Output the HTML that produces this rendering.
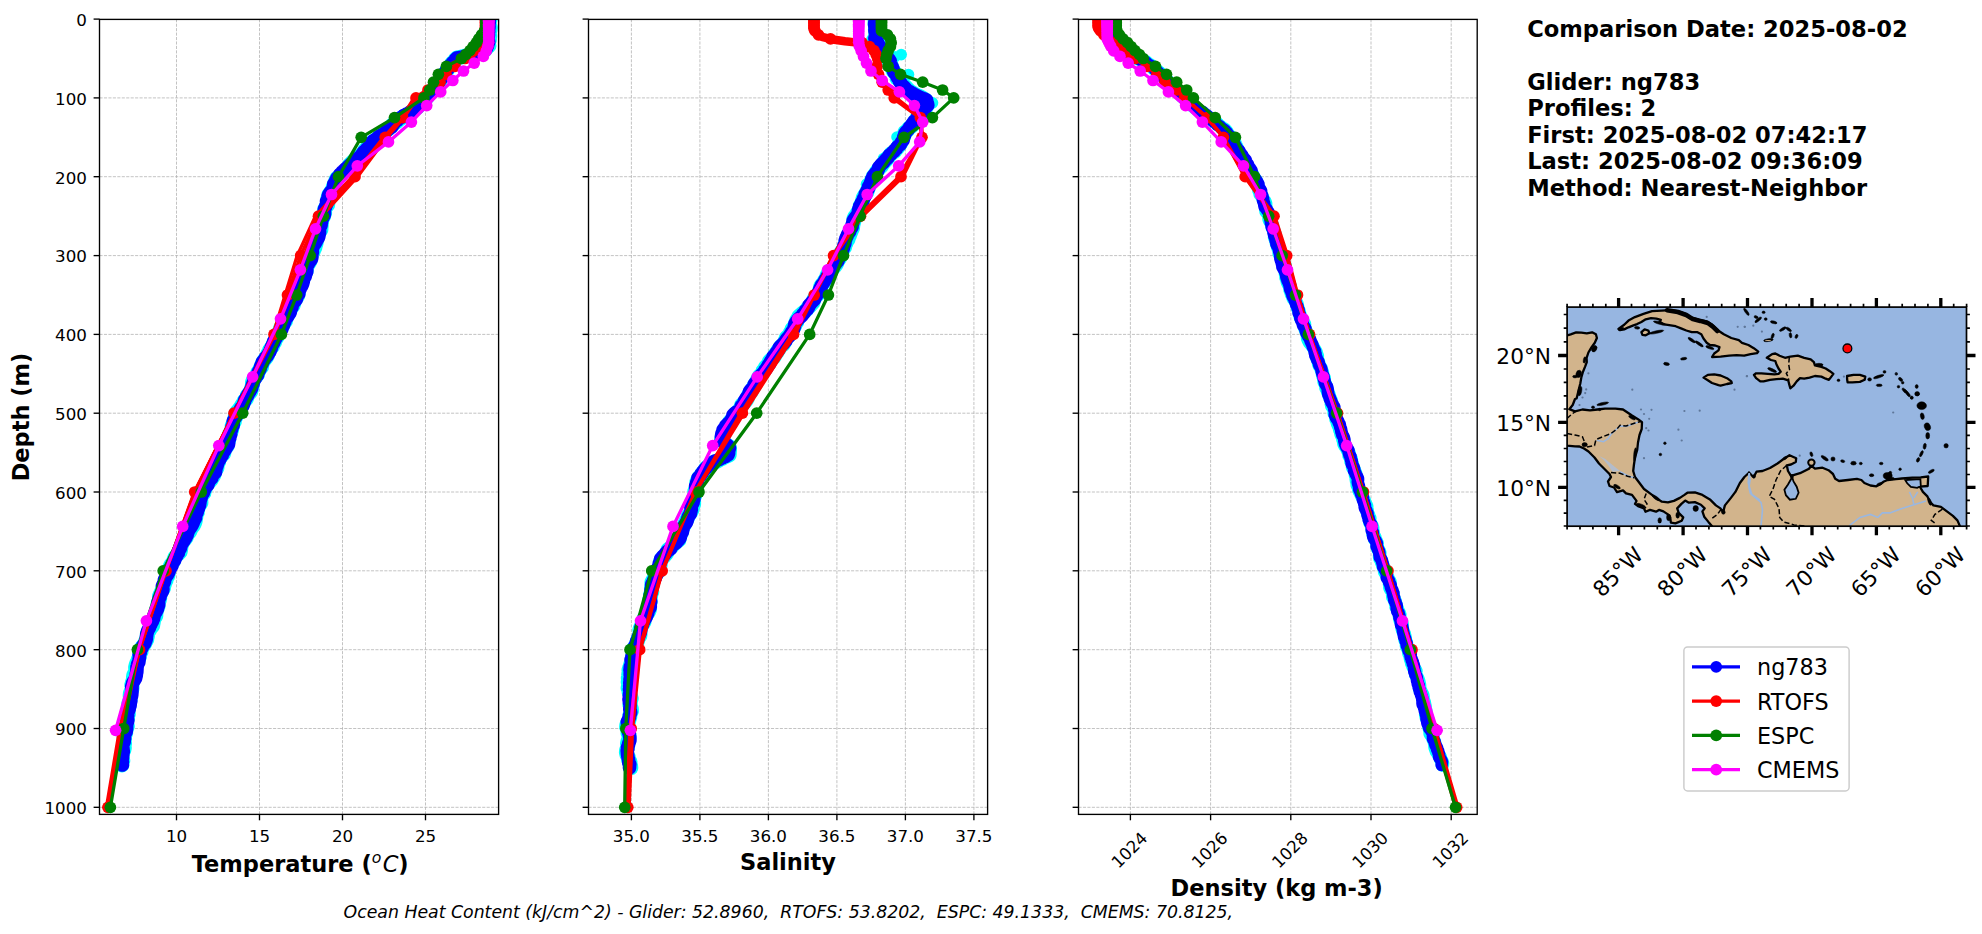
<!DOCTYPE html>
<html><head><meta charset="utf-8"><title>Glider vs model comparison</title>
<style>
html,body{margin:0;padding:0;background:#fff}
body{width:1982px;height:934px;overflow:hidden}
svg{display:block}
text{font-family:"DejaVu Sans","Liberation Sans",sans-serif;fill:#000}
.tk text{font-size:16.7px}
.lb text{font-size:22.5px;font-weight:bold}
.lb .mi{font-weight:normal;font-style:italic}
.ft{font-size:17.32px;font-style:italic;white-space:pre}
.inf text{font-size:22.6px;font-weight:bold}
.lg{font-size:22.3px}
.mp text{font-size:21.7px}
</style></head><body>
<svg width="1982" height="934" viewBox="0 0 1982 934">
<rect width="1982" height="934" fill="#fff"/>
<defs><clipPath id="c0"><rect x="99.5" y="19.4" width="399.1" height="795"/></clipPath><clipPath id="c1"><rect x="588.5" y="19.4" width="399.1" height="795"/></clipPath><clipPath id="c2"><rect x="1078.5" y="19.4" width="398.7" height="795"/></clipPath></defs>
<g stroke="#b4b4b4" stroke-width="0.8" stroke-dasharray="3.1 1.35" fill="none"><path d="M99.5 97.9H498.6"/><path d="M99.5 176.7H498.6"/><path d="M99.5 255.6H498.6"/><path d="M99.5 334.4H498.6"/><path d="M99.5 413.2H498.6"/><path d="M99.5 492H498.6"/><path d="M99.5 570.8H498.6"/><path d="M99.5 649.7H498.6"/><path d="M99.5 728.5H498.6"/><path d="M99.5 807.3H498.6"/><path d="M176.5 814.4V19.4"/><path d="M259.5 814.4V19.4"/><path d="M342.5 814.4V19.4"/><path d="M425.5 814.4V19.4"/></g>
<g clip-path="url(#c0)">
<polyline points="490.2,19.4 489.2,21.5 489.2,23.5 489.8,25.6 490.5,27.6 490.2,29.7 489.6,31.8 489.1,33.8 489.9,35.9 489.4,37.9 489.5,40 488.6,42 488.4,44 489,46 486.5,48 485.3,50 482.9,51 481.2,52 479,53 476.3,53.5 474.9,54 472.6,54.5 469.7,55 466.9,55.5 465.2,56 463.3,56.5 461.2,57 458.8,57.5 456.8,58 455.2,59.6 454.5,61.2 452.1,62.8 451.2,64.4 450.3,66 448.2,67.8 447.6,69.6 446.4,71.4 445.5,73.2 443.5,75 442,77 440.6,79 440.2,81 438.9,83 437.3,85 435.8,86.7 434.1,88.3 432,90 430.3,91.7 429.9,93.3 428.3,95 427.7,96.7 425.7,98.3 423.9,100 422.6,101.7 420.7,103.3 419.2,105 418.3,106.3 417.1,107.7 415.6,109 413.7,110.3 412.3,111.7 410.8,113 408.6,114.2 406.8,115.3 403.8,116.5 402.3,117.7 400.2,118.8 398.7,120 397.1,121.6 394.9,123.1 392.5,124.7 391.7,126.3 389.4,127.9 387.8,129.4 386,131 384.2,132.2 383.2,133.5 382.5,134.8 380.4,136 379,137.2 377.1,138.5 375.6,139.8 373.9,141 371.9,142.5 370.1,144 368.4,145.5 368,147 366.6,148.5 364.8,150 364.1,151.5 363.5,153 361.7,154.5 359.5,156 357.6,157.5 355.6,159 354.2,160.5 352.4,162 350.9,163.5 349.4,165 348.5,166.4 348,167.9 347,169.3 345.3,170.8 343.7,172.2 342.3,173.7 340.7,175.1 339,176.6 337,178 335.9,179.9 336,181.8 334.5,183.7 333.7,185.6 333.1,187.4 332.8,189.3 331.3,191.2 330,193.1 328.7,195 328.2,197 327.7,199 328,201 327.9,203 327.7,205 326.1,207 324.7,209 324.6,211 324.7,213 323.9,215 323.4,217 321.9,219.1 321.2,221.2 321.5,223.3 321.3,225.4 321.1,227.5 321,229.6 319.6,231.7 318.2,233.8 317,235.9 316.6,238 316.3,239.9 316.4,241.9 316,243.8 315.3,245.8 314.9,247.7 313.9,249.7 313.2,251.6 311.6,253.6 311.5,255.5 310.3,257.4 310.5,259.4 310,261.4 308.9,263.3 307.6,265.2 306.7,267.2 306.5,269.1 306.3,271.1 305,273.1 303.8,275 303.5,276.9 303.1,278.8 302.3,280.7 301.3,282.6 300.9,284.5 299.5,286.4 298.8,288.3 298.3,290.2 298.6,292.1 298.1,294 297.7,295.9 296.6,297.8 295.1,299.7 293.8,301.6 293.8,303.5 293.1,305.5 291.8,307.4 290,309.3 289.3,311.2 288.8,313.1 287.8,315 286.5,316.9 285.9,318.9 285.7,320.8 284.1,322.8 282.4,324.7 281.3,326.6 280.4,328.6 280,330.5 278.6,332.5 278.3,334.4 277.6,336.3 276.5,338.3 274.9,340.2 274.7,342.2 273.2,344.1 272.7,346.1 271.1,348.1 269.6,350 269.1,351.9 267.7,353.8 267.5,355.6 266.4,357.5 264.8,359.4 263.4,361.2 262.4,363.1 261.8,365 261.7,366.9 260,368.8 259,370.8 257.6,372.7 257.7,374.6 256.1,376.5 254.5,378.5 253.1,380.4 252.4,382.3 252.5,384.2 252.2,386.2 251.6,388.1 251.3,390 250.7,391.8 249.1,393.6 247.3,395.4 247,397.2 246.3,399 244.3,400.8 243.6,402.6 242.3,404.4 241.2,406.2 240,408 238.6,409.8 237,411.6 236,413.4 235.3,415.5 235.6,417.5 234.3,419.6 234.4,421.7 233.1,423.8 232.1,425.9 232,427.9 231.6,430 230.9,432 229.5,434 229.1,436 228.5,438 228.8,440 227.7,442 227.1,444 227.3,446 225.5,448 224.5,450 224.1,452 223.5,454 221.6,456 220,458 218.5,460 218.7,462 217.5,464 217.2,466 217,468 215.7,470 214.4,472 214.3,474 213.5,476 212.1,478 211.2,479.9 209.6,481.7 208,483.6 206,485.4 205.5,487.3 205.1,489.1 204,491 204,492.9 202.3,494.9 201.3,496.8 200.7,498.8 200.9,500.7 201,502.7 199.9,504.6 198.7,506.6 197.9,508.5 197.3,510.4 197.4,512.4 196.1,514.3 196,516.3 195.7,518.2 195.4,520.2 195,522.1 194.2,524.1 193.1,526 191.7,527.8 190.4,529.7 190,531.5 188.2,533.4 186.9,535.2 186.5,537.1 185.2,538.9 183.7,540.8 182.2,542.6 181.8,544.5 180.8,546.3 180.9,548.2 180.6,550 180.2,551.9 178.5,553.7 176.6,555.6 174.9,557.4 174.1,559.3 173.6,561.1 172.5,563 171,564.8 170,566.7 169.3,568.5 168.6,570.4 168.4,572.4 168.2,574.3 167.7,576.3 166.2,578.3 166.1,580.3 165,582.2 164.5,584.2 163.7,586.2 163.5,588.2 162.3,590.1 161.3,592.1 160.4,594.1 159.5,596.1 159.8,598 159.4,600 158.6,602 157.9,604 158.2,606 157.5,608 156.3,610 156.3,612 155.8,614 155.9,616 154.4,618 153.7,620 153.4,622 153,624 152.7,626 150.8,628 149.7,630 148.3,632 147.2,634 147.5,636 146.9,638 146.8,640 145.3,641.9 144.7,643.8 143.3,645.6 141.7,647.5 141,649.4 141.2,651.4 139.8,653.4 139.5,655.3 139.3,657.3 138.3,659.3 137.7,661.3 136.7,663.2 136,665.2 135.5,667.2 135.6,669.2 135.6,671.2 134.8,673.1 133.7,675.1 133.4,677.1 133.6,679.1 132.8,681 132.3,683 131.7,685 132.2,687.1 132,689.1 131.1,691.2 130.3,693.3 130.1,695.3 130.2,697.4 130.3,699.5 129.4,701.5 128.7,703.6 129,705.7 128.7,707.7 128.2,709.8 127.7,711.9 128.4,713.9 127.7,716 127.6,718.1 127,720.1 126.6,722.2 127,724.3 127.4,726.3 126.6,728.4 125.7,730.6 125.8,732.7 125,734.9 124,737 124.6,739.2 124.2,741.4 124.6,743.5 124.1,745.7 124.4,747.8 123.9,750 123,752.1 122.1,754.3 122.2,756.4 122.4,758.6 122.9,760.7 121.9,762.9 122,765" fill="none" stroke="#00ffff" stroke-width="14.8" stroke-linejoin="round" stroke-linecap="round"/><polyline points="489.3,19.4 488.9,21.1 489.2,22.8 488.7,24.5 489,26.3 488.9,28 488.5,29.7 488.7,31.4 488.3,33.1 488.5,34.9 488.2,36.6 488,38.3 488.2,40 488.7,42 487.9,44 487.5,46 486.7,47.3 486.3,48.7 485.2,50 483.3,50.8 482.2,51.5 479.6,52.2 478.4,53 476.3,53.4 474.2,53.8 472.1,54.2 470.4,54.7 469.4,55.1 467.4,55.5 466,55.9 464.6,56.3 462.8,56.8 461.2,57.2 459,57.6 456.9,58 455.6,59.1 455,60.3 454,61.4 452.7,62.6 451.9,63.7 450.8,64.9 449.5,66 449,67.3 448.3,68.6 446.8,69.9 446,71.1 445,72.4 444.5,73.7 443.7,75 442.4,76.4 442.1,77.9 440.5,79.3 439.5,80.7 439,82.1 437.6,83.6 436.8,85 435.2,86.2 434.7,87.5 434.1,88.8 433.2,90 432.6,91.2 431.2,92.5 430.4,93.8 429.5,95 428.3,96.2 427,97.5 426.3,98.8 425.6,100 424.2,101.2 423.1,102.5 421.1,103.8 420.3,105 419,106 418.2,107 417,108 415.1,109 413.4,110 412.2,111 410.1,112 408.7,113 407,113.9 405.2,114.8 403.5,115.6 402.8,116.5 401.1,117.4 399.7,118.2 398.4,119.1 397.8,120 396,121.2 394.8,122.4 393.8,123.7 393.1,124.9 392.2,126.1 391.3,127.3 389.5,128.6 388,129.8 386.5,131 385.7,132 385,133 383,134 381.3,135 379.7,136 378.2,137 377.2,138 376.2,139 374.7,140 372.9,141 371.9,142.2 370.8,143.4 370,144.6 369.6,145.8 368.6,147 367.4,148.2 366.3,149.4 365.3,150.6 363.5,151.8 362.9,153 362,154.2 361.2,155.4 360.2,156.6 358.6,157.8 357.2,159 355.4,160.2 354.5,161.4 352.7,162.6 351.1,163.8 349.8,165 348.5,166.2 347.4,167.4 345.9,168.5 344.5,169.7 343.3,170.9 342,172.1 341.1,173.3 339.7,174.5 339.5,175.6 338.7,176.8 337.1,178 336.3,179.5 335.5,181.1 334.8,182.6 333.7,184.2 333.7,185.7 333.7,187.3 332.8,188.8 332,190.4 330.6,191.9 329.4,193.5 328.6,195 328.1,196.6 328.3,198.1 327.4,199.7 326.5,201.3 326.9,202.9 326.6,204.4 325.7,206 325.4,207.6 324.4,209.1 324.2,210.7 324.5,212.3 324.5,213.9 324.2,215.4 323.2,217 322.5,218.6 321.6,220.2 321.6,221.8 321.2,223.5 321.1,225.1 320.3,226.7 319.5,228.3 319.5,229.9 319.6,231.5 319.5,233.2 319.1,234.8 318.8,236.4 318.3,238 317.1,239.6 316.4,241.2 315.6,242.8 314.4,244.4 313.3,246 312.8,247.5 312.2,249.1 312.2,250.7 312.4,252.3 311.8,253.9 311.8,255.5 311.8,257.1 311.6,258.8 310.6,260.4 309.4,262 308.5,263.6 307.6,265.2 306.8,266.9 306.6,268.5 306.8,270.1 306.7,271.8 306,273.4 305.5,275 305.2,276.6 303.8,278.2 303.5,279.8 303.3,281.3 302.9,282.9 302.4,284.5 301.6,286.1 300.3,287.7 300.1,289.2 299.1,290.8 298.9,292.4 298.8,294 297.7,295.5 296.7,297 296.6,298.5 295.9,300 294.6,301.5 293.3,303 292.2,304.5 292.2,306 291.9,307.5 290.6,309 290.4,310.5 290.3,312 289.6,313.5 288.5,315 287.7,316.5 286.3,318 285,319.5 285.1,321 284.5,322.5 283.7,324 283.5,325.4 282.5,326.9 282.1,328.4 281.6,329.9 280.2,331.4 279,332.9 278,334.4 277,335.8 276.5,337.2 275.5,338.7 274.8,340.1 273.6,341.5 273.7,342.9 272.7,344.3 272,345.7 271.4,347.2 271.2,348.6 270.3,350 270,351.5 269,353 268.1,354.5 267.2,356 265.6,357.5 264.8,359 263.7,360.5 262.4,362 262.3,363.5 261.2,365 260.7,366.5 260.4,367.9 259.8,369.4 258.9,370.9 258.3,372.4 257.7,373.8 257.4,375.3 256.1,376.8 255.5,378.2 254.5,379.7 253.6,381.2 253.4,382.6 252.8,384.1 252.2,385.6 251.8,387.1 251.5,388.5 250.6,390 249.8,391.5 248.9,392.9 248,394.4 247.4,395.9 246.4,397.3 245.6,398.8 244.7,400.2 244.5,401.7 243.8,403.2 243.3,404.6 242.8,406.1 241.4,407.5 240.5,409 240.1,410.5 239.6,411.9 238,413.4 236.7,414.9 236.1,416.4 235,417.9 234.2,419.4 233.3,420.9 233.2,422.5 233.2,424 233.2,425.5 232,427 231.8,428.5 231.4,430 230.4,431.6 230.6,433.2 230.7,434.8 229.7,436.4 229.8,438 229.1,439.6 228.5,441.2 228.7,442.8 228.5,444.4 227.4,446 226.4,447.6 225.6,449.1 224.6,450.7 223.4,452.2 222.5,453.8 222.2,455.3 220.8,456.9 220.3,458.4 219.5,460 218.3,461.5 217.7,463 217.4,464.5 216.9,466 215.8,467.5 216,469 215.7,470.5 215.6,472 214.2,473.5 213.1,475 211.9,476.5 211.8,478 210.6,479.4 209.3,480.9 208.4,482.3 208.2,483.8 207.7,485.2 206.3,486.7 204.9,488.1 204.7,489.6 203.8,491 203.5,492.6 202.3,494.2 201.2,495.8 201.2,497.4 200.7,499 199.7,500.5 200,502.1 199.7,503.7 199.5,505.3 198.3,506.9 198.4,508.5 197.2,510.1 197.3,511.7 196.6,513.3 195.9,514.9 195.5,516.5 195.6,518 194.6,519.6 193.6,521.2 193.2,522.8 192.4,524.4 191.6,526 190.6,527.5 189.5,529 188.6,530.5 188,532 187.3,533.5 187.2,535 186.3,536.5 185.7,538 184.6,539.5 183.8,541 182.6,542.5 181.8,544 180.7,545.5 180.7,547 180.2,548.5 179.1,550 178.5,551.5 178.4,552.9 177.1,554.4 176.8,555.8 175.9,557.3 175,558.7 174.7,560.2 173.6,561.7 172.7,563.1 172.1,564.6 171.9,566 170.6,567.5 170.1,568.9 169.4,570.4 168.9,572 168.1,573.5 167.3,575.1 166.1,576.6 165.3,578.2 164.4,579.7 164.6,581.3 163.9,582.9 163.2,584.4 162.4,586 162.7,587.5 162.9,589.1 162.6,590.7 161.8,592.2 161,593.8 160.3,595.3 160,596.9 159.1,598.4 158.8,600 158.2,601.5 158.6,603.1 158.7,604.6 158.2,606.2 157.3,607.7 157.4,609.2 156.5,610.8 155.8,612.3 154.7,613.8 154.2,615.4 153.9,616.9 153.6,618.5 152.8,620 152.4,621.5 151.3,623.1 150.7,624.6 149.8,626.2 149.4,627.7 148.5,629.2 147.7,630.8 147.3,632.3 146.8,633.8 146.7,635.4 146.4,636.9 146.4,638.5 146,640 145.4,641.6 144.9,643.1 143.7,644.7 142.4,646.3 142.1,647.8 140.6,649.4 140.5,651 140.3,652.6 139.2,654.3 139.4,655.9 139.5,657.5 139.2,659.1 139,660.7 138.8,662.3 137.7,664 137.4,665.6 137,667.2 137,668.8 136.9,670.4 136.8,672.1 136.3,673.7 136.3,675.3 135.9,676.9 135.5,678.5 134.5,680.1 133.4,681.8 132.6,683.4 132.3,685 131.7,686.6 132.1,688.2 132,689.8 132,691.4 131.9,693 131.8,694.6 131.5,696.3 130.5,697.9 130.7,699.5 130.8,701.1 130.4,702.7 130.2,704.3 130,705.9 129.1,707.5 129.2,709.1 128.6,710.7 127.8,712.3 127.4,713.9 127.7,715.5 127.1,717.1 127.4,718.8 127.8,720.4 127.4,722 126.9,723.6 126.6,725.2 126.6,726.8 126.6,728.4 126.4,730.1 126.2,731.7 125.3,733.4 124.7,735 124.3,736.7 124.6,738.4 124.2,740 124.2,741.7 123.4,743.4 122.8,745 122.6,746.7 122.9,748.3 123.1,750 123.3,751.7 122.8,753.3 122.8,755 122.6,756.7 122.4,758.3 121.8,760 122.4,761.7 121.8,763.3 122.4,765" fill="none" stroke="#0000ff" stroke-width="13.6" stroke-linejoin="round" stroke-linecap="round"/>
<polyline points="485.5,19.1 485.5,20.7 485.5,22.3 485.5,23.8 485.5,25.4 485.5,27 485.5,28.6 485.5,30.9 485.5,34.9 484,38.8 481,42.7 478,46.7 473.9,50.6 469.9,54.6 464.9,58.5 454.6,66.4 445.6,74.3 439.6,82.2 427.1,90 414.1,97.9 401.6,117.6 383.6,137.3 352.4,176.7 315.4,216.2 297.2,255.6 285.1,295 273.1,334.4 234,413.2 194.3,492 166,570.8 139.5,649.7 119.7,728.5 106.4,807.3" fill="none" stroke="#ff0000" stroke-width="3.3" stroke-linejoin="round"/>
<polyline points="485.5,19.1 485.5,20.7 485.5,22.3 485.5,23.8 485.5,25.4 485.5,27 485.5,28.6 485.5,30.9 485.5,34.9 484,38.8 481,42.7 478,46.7 474,50.6 470,54.6 465,58.5 455,66.4 446,74.3 440,82.2 428,90 416,97.9 402.7,117.6 385.2,137.3 355,176.7 318.5,216.2 300.6,255.6 287.5,295 274,334.4 234,413.2 194.7,492 166,570.8 139.5,649.7 121,728.5 107.9,807.3" fill="none" stroke="#ff0000" stroke-width="3.3" stroke-linejoin="round"/><g fill="#ff0000"><circle cx="485.5" cy="19.1" r="5.85"/><circle cx="485.5" cy="20.7" r="5.85"/><circle cx="485.5" cy="22.3" r="5.85"/><circle cx="485.5" cy="23.8" r="5.85"/><circle cx="485.5" cy="25.4" r="5.85"/><circle cx="485.5" cy="27" r="5.85"/><circle cx="485.5" cy="28.6" r="5.85"/><circle cx="485.5" cy="30.9" r="5.85"/><circle cx="485.5" cy="34.9" r="5.85"/><circle cx="484" cy="38.8" r="5.85"/><circle cx="481" cy="42.7" r="5.85"/><circle cx="478" cy="46.7" r="5.85"/><circle cx="474" cy="50.6" r="5.85"/><circle cx="470" cy="54.6" r="5.85"/><circle cx="465" cy="58.5" r="5.85"/><circle cx="455" cy="66.4" r="5.85"/><circle cx="446" cy="74.3" r="5.85"/><circle cx="440" cy="82.2" r="5.85"/><circle cx="428" cy="90" r="5.85"/><circle cx="416" cy="97.9" r="5.85"/><circle cx="402.7" cy="117.6" r="5.85"/><circle cx="385.2" cy="137.3" r="5.85"/><circle cx="355" cy="176.7" r="5.85"/><circle cx="318.5" cy="216.2" r="5.85"/><circle cx="300.6" cy="255.6" r="5.85"/><circle cx="287.5" cy="295" r="5.85"/><circle cx="274" cy="334.4" r="5.85"/><circle cx="234" cy="413.2" r="5.85"/><circle cx="194.7" cy="492" r="5.85"/><circle cx="166" cy="570.8" r="5.85"/><circle cx="139.5" cy="649.7" r="5.85"/><circle cx="121" cy="728.5" r="5.85"/><circle cx="107.9" cy="807.3" r="5.85"/></g>
<polyline points="485.5,19.1 485.5,20.7 485.5,22.3 485.5,23.8 485.5,25.4 485.5,27 485.5,28.6 485.5,30.9 485.5,34.9 484,38.8 481,42.7 478,46.7 474.1,50.6 470.1,54.6 465.1,58.5 455.4,66.4 446.4,74.3 440.4,82.2 428.9,90 417.9,97.9 403.8,117.6 386.8,137.3 357.6,176.7 321.6,216.2 304,255.6 289.9,295 274.9,334.4 234,413.2 195,492 166,570.8 139.5,649.7 122.3,728.5 109.5,807.3" fill="none" stroke="#ff0000" stroke-width="3.3" stroke-linejoin="round"/>
<polyline points="486,19.1 486,20.7 486,22.3 486,23.8 486,25.4 486,27 485.5,28.6 484.5,30.9 481.5,34.9 478.7,38.8 476.4,42.7 473.1,46.7 469.9,50.6 465.7,54.6 461.4,58.5 446.4,66.4 438.4,74.3 433.5,82.2 429.8,90 423.9,97.9 394.5,117.6 361.2,137.3 338.5,176.7 323.4,216.2 310.2,255.6 296.7,295 281.4,334.4 242.7,413.2 201.3,492 163.2,570.8 137.4,649.7 123.7,728.5 110.4,807.3" fill="none" stroke="#008000" stroke-width="3.3" stroke-linejoin="round"/><g fill="#008000"><circle cx="486" cy="19.1" r="5.85"/><circle cx="486" cy="20.7" r="5.85"/><circle cx="486" cy="22.3" r="5.85"/><circle cx="486" cy="23.8" r="5.85"/><circle cx="486" cy="25.4" r="5.85"/><circle cx="486" cy="27" r="5.85"/><circle cx="485.5" cy="28.6" r="5.85"/><circle cx="484.5" cy="30.9" r="5.85"/><circle cx="481.5" cy="34.9" r="5.85"/><circle cx="478.7" cy="38.8" r="5.85"/><circle cx="476.4" cy="42.7" r="5.85"/><circle cx="473.1" cy="46.7" r="5.85"/><circle cx="469.9" cy="50.6" r="5.85"/><circle cx="465.7" cy="54.6" r="5.85"/><circle cx="461.4" cy="58.5" r="5.85"/><circle cx="446.4" cy="66.4" r="5.85"/><circle cx="438.4" cy="74.3" r="5.85"/><circle cx="433.5" cy="82.2" r="5.85"/><circle cx="429.8" cy="90" r="5.85"/><circle cx="423.9" cy="97.9" r="5.85"/><circle cx="394.5" cy="117.6" r="5.85"/><circle cx="361.2" cy="137.3" r="5.85"/><circle cx="338.5" cy="176.7" r="5.85"/><circle cx="323.4" cy="216.2" r="5.85"/><circle cx="310.2" cy="255.6" r="5.85"/><circle cx="296.7" cy="295" r="5.85"/><circle cx="281.4" cy="334.4" r="5.85"/><circle cx="242.7" cy="413.2" r="5.85"/><circle cx="201.3" cy="492" r="5.85"/><circle cx="163.2" cy="570.8" r="5.85"/><circle cx="137.4" cy="649.7" r="5.85"/><circle cx="123.7" cy="728.5" r="5.85"/><circle cx="110.4" cy="807.3" r="5.85"/></g>
<polyline points="488.7,19.5 488.7,20.3 488.7,21.2 488.7,22.1 488.7,23.1 488.7,24.2 488.7,25.4 488.7,26.6 488.7,28.1 488.7,29.7 488.7,31.6 488.7,33.7 488.7,36.1 488.7,39 488.7,42.3 487.9,46.2 486.3,50.9 483.3,56.4 474.2,63.1 463.5,71 452.8,80.5 440.7,91.9 426.7,105.6 411.4,122.1 388.5,141.9 357.3,165.8 331.5,194.5 315.5,228.8 300.4,269.8 280.5,318.8 252.6,376.9 218.8,445.6 182.7,526.4 146.4,620.8 115.6,730.3" fill="none" stroke="#ff00ff" stroke-width="3.3" stroke-linejoin="round"/><g fill="#ff00ff"><circle cx="488.7" cy="19.5" r="5.85"/><circle cx="488.7" cy="20.3" r="5.85"/><circle cx="488.7" cy="21.2" r="5.85"/><circle cx="488.7" cy="22.1" r="5.85"/><circle cx="488.7" cy="23.1" r="5.85"/><circle cx="488.7" cy="24.2" r="5.85"/><circle cx="488.7" cy="25.4" r="5.85"/><circle cx="488.7" cy="26.6" r="5.85"/><circle cx="488.7" cy="28.1" r="5.85"/><circle cx="488.7" cy="29.7" r="5.85"/><circle cx="488.7" cy="31.6" r="5.85"/><circle cx="488.7" cy="33.7" r="5.85"/><circle cx="488.7" cy="36.1" r="5.85"/><circle cx="488.7" cy="39" r="5.85"/><circle cx="488.7" cy="42.3" r="5.85"/><circle cx="487.9" cy="46.2" r="5.85"/><circle cx="486.3" cy="50.9" r="5.85"/><circle cx="483.3" cy="56.4" r="5.85"/><circle cx="474.2" cy="63.1" r="5.85"/><circle cx="463.5" cy="71" r="5.85"/><circle cx="452.8" cy="80.5" r="5.85"/><circle cx="440.7" cy="91.9" r="5.85"/><circle cx="426.7" cy="105.6" r="5.85"/><circle cx="411.4" cy="122.1" r="5.85"/><circle cx="388.5" cy="141.9" r="5.85"/><circle cx="357.3" cy="165.8" r="5.85"/><circle cx="331.5" cy="194.5" r="5.85"/><circle cx="315.5" cy="228.8" r="5.85"/><circle cx="300.4" cy="269.8" r="5.85"/><circle cx="280.5" cy="318.8" r="5.85"/><circle cx="252.6" cy="376.9" r="5.85"/><circle cx="218.8" cy="445.6" r="5.85"/><circle cx="182.7" cy="526.4" r="5.85"/><circle cx="146.4" cy="620.8" r="5.85"/><circle cx="115.6" cy="730.3" r="5.85"/></g>
</g>
<g stroke="#000" stroke-width="1.35" fill="none"><rect x="99.5" y="19.4" width="399.1" height="795"/><path d="M99.5 19.1h-5.9"/><path d="M99.5 97.9h-5.9"/><path d="M99.5 176.7h-5.9"/><path d="M99.5 255.6h-5.9"/><path d="M99.5 334.4h-5.9"/><path d="M99.5 413.2h-5.9"/><path d="M99.5 492h-5.9"/><path d="M99.5 570.8h-5.9"/><path d="M99.5 649.7h-5.9"/><path d="M99.5 728.5h-5.9"/><path d="M99.5 807.3h-5.9"/><path d="M176.5 814.4v5.9"/><path d="M259.5 814.4v5.9"/><path d="M342.5 814.4v5.9"/><path d="M425.5 814.4v5.9"/></g><g class="tk"><text x="86.9" y="25.9" text-anchor="end">0</text><text x="86.9" y="104.7" text-anchor="end">100</text><text x="86.9" y="183.5" text-anchor="end">200</text><text x="86.9" y="262.4" text-anchor="end">300</text><text x="86.9" y="341.2" text-anchor="end">400</text><text x="86.9" y="420" text-anchor="end">500</text><text x="86.9" y="498.8" text-anchor="end">600</text><text x="86.9" y="577.6" text-anchor="end">700</text><text x="86.9" y="656.5" text-anchor="end">800</text><text x="86.9" y="735.3" text-anchor="end">900</text><text x="86.9" y="814.1" text-anchor="end">1000</text><text x="176.5" y="842.3" text-anchor="middle">10</text><text x="259.5" y="842.3" text-anchor="middle">15</text><text x="342.5" y="842.3" text-anchor="middle">20</text><text x="425.5" y="842.3" text-anchor="middle">25</text></g>
<g stroke="#b4b4b4" stroke-width="0.8" stroke-dasharray="3.1 1.35" fill="none"><path d="M588.5 97.9H987.6"/><path d="M588.5 176.7H987.6"/><path d="M588.5 255.6H987.6"/><path d="M588.5 334.4H987.6"/><path d="M588.5 413.2H987.6"/><path d="M588.5 492H987.6"/><path d="M588.5 570.8H987.6"/><path d="M588.5 649.7H987.6"/><path d="M588.5 728.5H987.6"/><path d="M588.5 807.3H987.6"/><path d="M631.4 814.4V19.4"/><path d="M699.9 814.4V19.4"/><path d="M768.4 814.4V19.4"/><path d="M836.9 814.4V19.4"/><path d="M905.4 814.4V19.4"/><path d="M973.9 814.4V19.4"/></g>
<g clip-path="url(#c1)">
<g fill="#00ffff"><circle cx="901.2" cy="54.6" r="5.8"/><circle cx="894.8" cy="56.8" r="5.8"/><circle cx="908.5" cy="74.5" r="5.8"/><circle cx="895.5" cy="79.2" r="5.8"/><circle cx="932.5" cy="102.8" r="5.8"/><circle cx="897" cy="137" r="5.8"/><circle cx="883.5" cy="158.5" r="5.8"/><circle cx="866.5" cy="184.2" r="5.8"/><circle cx="872" cy="39.5" r="5.8"/></g>
<polyline points="875,19.4 875,21.5 875,23.5 875.3,25.6 875.5,27.6 875.3,29.7 876,31.8 876.4,33.8 875.4,35.9 875.9,37.9 876.4,40 877.8,42 878.2,44 879.8,46 881.5,48 882.2,50 883.1,52 885.4,54 887,56 887.8,58 888.2,60 888.8,62 889.7,64 891.6,66.3 892.5,68.7 893.2,71 895.2,73 896.8,74.9 897.2,76.9 899,78.9 900.1,80.8 901.6,82.8 903.2,84.6 905.2,86.4 906.9,88.2 908.7,90 909.7,91.2 911.7,92.3 913.4,93.4 915.5,94.6 917.2,95.5 919.6,96.4 921.4,97.3 922.8,98.2 924.2,99.1 925.6,100 926.9,102.7 927.3,105.3 926.1,107.1 924.4,108.9 923.2,110.7 921.9,112.3 920.6,113.8 919.8,115.4 917.4,117 916.8,118.7 915.4,120.5 914.2,122.2 913.1,124 912.2,125.7 910.2,127.3 908.4,128.8 907.5,130.4 905,132 904.4,134 903.8,136 902.1,138 901.6,140 901.2,142 900.6,143.6 898.9,145.2 898.5,146.8 897,148.4 895.6,150 894.3,151.7 891.5,153.3 890.1,155 889,156.6 887.3,158.1 886.7,159.7 885,161.3 883.7,162.9 882.4,164.4 881.6,166 879.7,167.7 878.3,169.5 876.9,171.2 875.7,172.9 875,174.7 873.2,176.4 872.8,178.4 871.6,180.3 870.7,182.3 869.3,184.2 868.5,186.2 868.4,188.1 867.6,190.1 867,192 865.5,194 864.3,195.9 863.2,197.8 862.7,199.7 862.2,201.6 861.8,203.5 860.2,205.5 859.9,207.4 859.7,209.3 858.8,211.2 857.2,213.1 856.2,215 854.7,216.9 853.8,218.8 854.1,220.6 853.6,222.5 853.1,224.4 852.8,226.2 852.6,228.1 851.7,230 850.9,231.9 850.1,233.8 849.5,235.6 848.6,237.5 848,239.5 846.5,241.5 845.9,243.5 845,245.5 844.6,247.4 843.1,249.4 841.8,251.4 840.5,253.4 840.5,255.4 840.2,257.2 839.2,259 837.7,260.8 837.1,262.6 836.2,264.4 835,266.2 833.2,268 831.5,269.8 830.1,271.5 828.5,273.2 827.2,275 826.6,276.9 826.4,278.8 824.5,280.7 823.7,282.6 822,284.5 820.6,286.4 820.5,288.3 819.7,290.2 819.5,292.1 818.3,294 816.2,295.8 814.9,297.5 813.9,299.2 813.5,301 812.9,302.8 811.3,304.5 809.7,306.2 807.7,308 806.5,309.7 804.6,311.4 802.7,313.1 800.6,314.9 798.7,316.6 798.1,318.3 796.7,320.1 796.9,321.9 795.3,323.7 795.1,325.5 793.5,327.3 791.9,329.1 791.6,330.9 790.3,332.7 789.9,334.5 788.2,336.1 786.3,337.8 785.8,339.4 785,341 784.3,342.7 783.3,344.3 781.1,346 780,347.6 779,349.2 777.6,350.9 776.9,352.5 775.2,354.2 774.7,355.9 773.7,357.5 771.5,359.2 769.6,360.9 768.9,362.6 768.4,364.2 766.5,365.9 765.2,367.6 764.6,369.3 762.9,371 762.6,372.6 761.4,374.3 759.5,376 758.4,377.8 757.7,379.5 756.7,381.2 756.1,383 754.5,384.8 754.1,386.5 752.8,388.2 752.1,390 751.2,391.7 749.8,393.3 748.5,395 747.9,396.7 747.4,398.3 746.5,400 745.2,401.7 743.4,403.3 741.5,405 741.2,406.7 740.3,408.3 739.6,410 737.3,411.8 735.6,413.5 735,415.3 733.9,417.2 732.5,419 730.6,420.8 729.1,422.7 728.4,424.5 726.7,426.3 725.6,428.2 724.4,430 724.5,432 724.4,434 723.4,436 722,438 721.4,440 722.9,441.6 724.8,443.2 726.9,444.8 729,446.4 729.6,448 729.6,450.3 729.4,452.7 729.3,455 727.1,456 724.4,457 722.9,458 721.2,459 719.2,460 717.6,461 714.9,462 712,463 710.2,464.5 708.8,466 706.3,467.5 705.4,469.2 704.6,471 702.6,472.8 701.3,474.5 700.2,476.2 698.6,478 697.5,480.2 696.7,482.4 696.7,484.6 696.7,486.8 696,489 694.7,491.2 694.9,493.3 694.9,495.5 693.8,497.6 693.5,499.7 693.7,501.9 693.7,504 693,506.1 692.3,508.2 691.8,510.4 690.7,512.5 689.2,514.4 687.9,516.4 687.5,518.3 686.4,520.2 685.6,522.1 684.6,524.1 683.8,526 682.5,528 681.2,530 681.7,532 680.8,534 679.5,536 679.3,538 679.1,540 676.7,541.7 675.1,543.3 673.1,545 671.8,546.7 669.7,548.3 667.7,550 667.5,551.7 666.7,553.3 665.2,555 663.8,556.7 662,558.3 661,560 660.2,562 660.3,564.1 660,566.1 659.6,568.2 659.5,570.2 657.9,572.2 656.3,574.2 655.1,576.1 654.1,578.1 653,580.1 651.9,582.1 651.8,584.1 652,586 651.4,588 651.5,590 651.9,592 650.7,594 650.7,596 650.3,598 649.5,600 650.3,602 649.6,604 649.6,606 649.7,608 649.4,610 648.5,612 647,614 645.8,616 644.2,618 644,620 644.1,622 642.8,624 641.3,626 640.4,628 639.8,630 640,632 640.1,634 639.9,636 638.3,638 637.9,639.9 637.2,641.8 636.4,643.8 636.1,645.7 634.2,647.6 632.7,649.5 632.9,651.5 633.2,653.6 633,655.6 632.2,657.7 631.9,659.8 631.9,661.8 630.8,663.9 630.2,665.9 629.6,668 628.9,670 629.1,672 628.7,674 628.5,676 628.2,678 628.8,680 628.1,682 628.8,684 628.4,686 628,688.1 629.2,690.2 629,692.2 630,694.3 630.7,696.4 631.3,698.5 630.5,700.6 630.4,702.7 629.8,704.8 630.8,706.8 631.4,708.9 631.5,711 630.7,713 629.8,715 629.9,717 629.2,719 628.8,721 627.6,723 626.7,725 626.5,727 627.5,729 628.1,731 627.9,733 629.1,735 629.1,737 628.7,739.2 627.9,741.4 627.4,743.6 627.8,745.9 627.3,748.1 626.5,750.3 626.3,752.5 626.9,754.8 628.4,757.1 628.4,759.4 630.1,761.7 629.9,764 630.7,766 630.9,768" fill="none" stroke="#00ffff" stroke-width="14.8" stroke-linejoin="round" stroke-linecap="round"/><polyline points="875.1,19.4 875.2,21.1 874.7,22.8 874.6,24.5 874.8,26.3 875.5,28 874.9,29.7 875,31.4 875.5,33.1 876.1,34.9 875.5,36.6 874.9,38.3 875.6,40 877.1,41.5 877.8,43 877.9,44.5 879.5,46 880.5,47.5 882.2,49 883.4,50.5 885,52 885.3,53.5 886.6,55 887.1,56.5 887.9,58 889.2,59.5 890.2,61 890.4,62.5 890.7,64 891.5,65.8 892.4,67.5 893.1,69.2 893.5,71 894.2,72.5 895.5,74 897,75.4 897.1,76.9 898.1,78.4 899.3,79.8 899.4,81.3 900.8,82.8 901.5,84.2 903,85.7 904.4,87.1 905.8,88.6 906.8,90 908.3,90.9 910,91.8 911.4,92.8 913.2,93.7 914.6,94.6 916,95.3 916.8,95.9 918.7,96.6 920.2,97.3 921.4,98 923.4,98.7 925.2,99.3 926.6,100 926.8,101.8 927.5,103.5 927.8,105.3 926.4,106.7 925.5,108 924.1,109.3 923.2,110.7 922.2,112 920.6,113.2 919.8,114.5 918.2,115.7 917.5,117 916.9,118.5 915.8,119.9 914.1,121.3 913.2,122.8 912,124.2 911.6,125.7 909.8,127 909.1,128.2 908.4,129.5 907.2,130.7 906.1,132 904.8,133.7 904.6,135.3 903.7,137 903.5,138.7 903.1,140.3 901.6,142 900.9,143.3 900.2,144.7 898.3,146 897,147.3 896.4,148.7 894.8,150 894.1,151.2 892.3,152.5 891.5,153.8 889.5,155 888.5,156.4 888,157.8 886.4,159.1 885,160.5 884,161.9 882.7,163.2 881.1,164.6 879.9,166 878.7,167.3 878.7,168.6 878,169.9 877.6,171.2 876,172.5 875.5,173.8 873.9,175.1 873,176.4 872.6,177.9 871.7,179.3 871.5,180.8 870.8,182.3 870.2,183.7 869.9,185.2 868.5,186.7 868.5,188.1 867.8,189.6 866.8,191.1 866.4,192.5 865.2,194 865.2,195.5 864.5,197 863.6,198.5 863.2,200 862.4,201.5 861.3,203 861.1,204.5 859.8,206 859.8,207.5 858.8,209 858.5,210.5 858.5,212 857.9,213.5 857.4,215 856.4,216.5 855,218 853.9,219.5 853.1,221 852.9,222.5 852.4,224 852,225.5 852.1,227 850.9,228.5 850.1,230 849.8,231.5 848.6,233 847.6,234.5 847.1,236 846.3,237.5 845.8,239.1 845.2,240.8 845,242.4 844.7,244 843.9,245.6 843.6,247.3 843.1,248.9 842.1,250.5 842.2,252.1 841.3,253.8 840.3,255.4 839,256.8 838.6,258.2 838.4,259.6 837.8,261 836.7,262.4 835.5,263.8 834,265.2 833.5,266.6 832.8,268 831.6,269.4 830.8,270.8 829.7,272.2 829.2,273.6 828.4,275 827.1,276.5 826.9,277.9 825.4,279.4 824.7,280.8 823.8,282.3 822.8,283.8 821.5,285.2 821.4,286.7 820.1,288.2 819.6,289.6 819.6,291.1 818.4,292.5 817.3,294 816.6,295.4 815.7,296.8 815,298.2 814.4,299.6 812.9,301 811.6,302.4 810.5,303.8 809,305.2 808.8,306.6 808.2,308 807.3,309.3 805.5,310.6 804.9,311.9 804.1,313.1 802.8,314.4 802,315.7 800.7,317 799.1,318.3 797.8,319.8 796.7,321.2 795.5,322.7 794.8,324.2 794.6,325.7 794.2,327.1 793.8,328.6 793.2,330.1 791.9,331.6 791.2,333 790.2,334.5 789.6,335.8 788.5,337.1 787.1,338.4 786.3,339.6 785.9,340.9 784.3,342.2 783.7,343.5 781.9,344.8 780.6,346.1 779.4,347.4 778.8,348.6 778.5,349.9 777.7,351.2 776.3,352.5 775.8,353.9 774.4,355.3 773.1,356.6 772.7,358 771.9,359.4 771.1,360.8 770.2,362.2 769.7,363.6 768.5,364.9 767.8,366.3 766.9,367.7 766.1,369.1 764.8,370.5 764,371.9 762.9,373.2 761.5,374.6 760.1,376 759.5,377.4 758,378.8 757.9,380.2 756.6,381.6 755.2,383 754.1,384.4 754.1,385.8 753.2,387.2 752,388.6 750.7,390 749.5,391.3 749.3,392.7 748.8,394 748.3,395.3 747.7,396.7 746.2,398 745.5,399.3 744.5,400.7 744.1,402 743.6,403.3 743.1,404.7 741.3,406 740.9,407.3 740.4,408.7 739.9,410 737.8,411.2 736.1,412.3 734.5,413.5 733,414.9 732.8,416.2 732.4,417.6 731.6,419 731,420.4 730,421.8 728.6,423.1 727.1,424.5 725.7,425.9 725.3,427.2 724,428.6 723,430 722.8,431.7 722,433.3 721.7,435 721.4,436.7 721.7,438.3 721.4,440 722.6,441.3 724.7,442.7 725.9,444 727.7,445.3 729,446.7 729.5,448 729,449.8 728.6,451.5 728.6,453.2 727.9,455 726.7,455.7 725.3,456.5 723.4,457.2 722.5,457.9 720.4,458.6 719.5,459.4 717.5,460.1 715.5,460.8 713.8,461.5 713,462.3 712.3,463 710.2,464.1 708.9,465.2 707.5,466.4 706.6,467.5 705.1,468.8 704.1,470.1 703,471.4 702.5,472.8 701.1,474.1 700.7,475.4 699.3,476.7 697.9,478 697.8,479.6 697.5,481.3 696.6,482.9 696.5,484.6 695.6,486.2 695.8,487.9 695.7,489.6 695.7,491.2 695.4,492.8 694.7,494.5 694.2,496.1 693.7,497.8 693.9,499.4 692.9,501 693.1,502.7 692.1,504.3 691.4,505.9 690.9,507.6 691.3,509.2 691,510.9 690.5,512.5 690.3,514 689.1,515.5 688.3,517 687.7,518.5 687.3,520 686.8,521.5 686.1,523 685,524.5 684,526 683,527.6 683,529.1 682.6,530.7 682.3,532.2 681.2,533.8 680.6,535.3 680.4,536.9 679.9,538.4 678.7,540 677.4,541.2 676.6,542.5 674.8,543.8 673,545 671.8,546.2 671.2,547.5 670.6,548.8 669,550 667.5,551.2 666.3,552.5 665.2,553.8 664.4,555 663,556.2 661.9,557.5 660.7,558.8 660.5,560 660.4,561.7 659.3,563.4 659.5,565.1 658.4,566.8 657.8,568.5 658.1,570.2 657.9,571.7 657.5,573.2 656.7,574.8 655.6,576.3 655.3,577.8 654.2,579.3 653.4,580.9 652.9,582.4 651.9,583.9 651.6,585.4 651.7,587 651.5,588.5 651,590 651,591.6 650.8,593.3 650.2,594.9 650.3,596.5 650.1,598.2 650.3,599.8 650.7,601.5 650.3,603.1 650.2,604.7 650.3,606.4 649.9,608 648.7,609.5 648.2,611 647.9,612.5 647.4,614 646.7,615.5 646.2,617 645.4,618.5 644.5,620 643.7,621.6 642.8,623.3 642.4,624.9 641.3,626.5 640.8,628.2 640.8,629.8 640.5,631.5 640.1,633.1 639.2,634.7 638.6,636.4 638.1,638 637.5,639.6 636.6,641.3 636.2,642.9 635.9,644.6 634.6,646.2 634,647.9 633.6,649.5 633,651.2 632.7,652.9 633,654.6 632,656.3 631.8,658 631.1,659.8 631.3,661.5 631.6,663.2 631.3,664.9 630.3,666.6 630.2,668.3 630,670 630.3,671.6 630.2,673.2 630.2,674.8 630.5,676.4 630.3,678 630,679.6 630.5,681.2 629.8,682.8 630,684.4 629.7,686 630.1,687.7 629.5,689.3 630.3,691 630,692.7 629.5,694.3 629.3,696 629.4,697.7 629,699.3 629.3,701 629.5,702.7 630,704.3 630,706 629.9,707.7 629.8,709.3 630.4,711 630.7,712.6 630.2,714.1 629.4,715.7 629.5,717.2 628.9,718.8 628.1,720.3 627.3,721.9 627.5,723.4 627.6,725 628,726.7 628.2,728.4 628.5,730.1 628.4,731.9 629.4,733.6 629.4,735.3 629.8,737 629.9,738.7 629.9,740.4 629.3,742.2 628.6,743.9 628.3,745.6 627.5,747.3 627.8,749.1 627.2,750.8 627.4,752.5 627.5,754.1 627.8,755.8 628,757.4 628.5,759.1 628.7,760.7 628.7,762.4 629.8,764 629.6,766 629.5,768" fill="none" stroke="#0000ff" stroke-width="13.6" stroke-linejoin="round" stroke-linecap="round"/>
<polyline points="817,34.1 822,36.8 831,39.2 845,41.2 862,43.1" fill="none" stroke="#ff0000" stroke-width="8.5" stroke-linejoin="round" stroke-linecap="round"/>
<polyline points="814,19.1 814,20.7 814,22.3 814,23.8 814,25.4 814,27 814,28.6 815,30.9 818.4,34.9 830.1,38.8 861.6,42.7 869.1,46.7 873.6,50.6 875.9,54.6 877.1,58.5 875.6,66.4 876.6,74.3 880.4,82.2 886.4,90 892.4,97.9 919.5,117.6 921.6,137.3 899.1,176.7 858.6,216.2 832.6,255.6 813.9,295 792.1,334.4 740.8,413.2 694.9,492 661.9,570.8 639.1,649.7 629.9,728.5 626.4,807.3" fill="none" stroke="#ff0000" stroke-width="3.3" stroke-linejoin="round"/>
<polyline points="814,19.1 814,20.7 814,22.3 814,23.8 814,25.4 814,27 814,28.6 815,30.9 818.5,34.9 830.5,38.8 862,42.7 869.5,46.7 874,50.6 876.2,54.6 877.7,58.5 877,66.4 878.5,74.3 882.2,82.2 888.2,90 894.2,97.9 920.4,117.6 922,137.3 901,176.7 860.5,216.2 833.5,255.6 814.2,295 793.5,334.4 742.4,413.2 695.2,492 662.2,570.8 639.7,649.7 631.2,728.5 627.8,807.3" fill="none" stroke="#ff0000" stroke-width="3.3" stroke-linejoin="round"/><g fill="#ff0000"><circle cx="814" cy="19.1" r="5.85"/><circle cx="814" cy="20.7" r="5.85"/><circle cx="814" cy="22.3" r="5.85"/><circle cx="814" cy="23.8" r="5.85"/><circle cx="814" cy="25.4" r="5.85"/><circle cx="814" cy="27" r="5.85"/><circle cx="814" cy="28.6" r="5.85"/><circle cx="815" cy="30.9" r="5.85"/><circle cx="818.5" cy="34.9" r="5.85"/><circle cx="830.5" cy="38.8" r="5.85"/><circle cx="862" cy="42.7" r="5.85"/><circle cx="869.5" cy="46.7" r="5.85"/><circle cx="874" cy="50.6" r="5.85"/><circle cx="876.2" cy="54.6" r="5.85"/><circle cx="877.7" cy="58.5" r="5.85"/><circle cx="877" cy="66.4" r="5.85"/><circle cx="878.5" cy="74.3" r="5.85"/><circle cx="882.2" cy="82.2" r="5.85"/><circle cx="888.2" cy="90" r="5.85"/><circle cx="894.2" cy="97.9" r="5.85"/><circle cx="920.4" cy="117.6" r="5.85"/><circle cx="922" cy="137.3" r="5.85"/><circle cx="901" cy="176.7" r="5.85"/><circle cx="860.5" cy="216.2" r="5.85"/><circle cx="833.5" cy="255.6" r="5.85"/><circle cx="814.2" cy="295" r="5.85"/><circle cx="793.5" cy="334.4" r="5.85"/><circle cx="742.4" cy="413.2" r="5.85"/><circle cx="695.2" cy="492" r="5.85"/><circle cx="662.2" cy="570.8" r="5.85"/><circle cx="639.7" cy="649.7" r="5.85"/><circle cx="631.2" cy="728.5" r="5.85"/><circle cx="627.8" cy="807.3" r="5.85"/></g>
<polyline points="814,19.1 814,20.7 814,22.3 814,23.8 814,25.4 814,27 814,28.6 815,30.9 818.6,34.9 830.9,38.8 862.4,42.7 869.9,46.7 874.4,50.6 876.6,54.6 878.3,58.5 878.4,66.4 880.4,74.3 884.1,82.2 890.1,90 896.1,97.9 921.2,117.6 922.4,137.3 902.9,176.7 862.4,216.2 834.4,255.6 814.6,295 794.9,334.4 744,413.2 695.6,492 662.6,570.8 640.3,649.7 632.6,728.5 629.1,807.3" fill="none" stroke="#ff0000" stroke-width="3.3" stroke-linejoin="round"/>
<polyline points="881.5,19.1 881.5,20.7 881.5,22.3 881.5,23.8 881.5,25.4 881.5,27 881.5,28.6 881.5,30.9 887.5,34.9 890.4,38.8 891.2,42.7 890.4,46.7 888.2,50.6 886.7,54.6 886,58.5 888.2,66.4 900.5,74.3 922.7,82.2 942.6,90 953.7,97.9 932.4,117.6 904,137.3 877.4,176.7 860.1,216.2 843.5,255.6 828.4,295 809.7,334.4 756.7,413.2 699,492 651.7,570.8 630,649.7 625.8,728.5 624.7,807.3" fill="none" stroke="#008000" stroke-width="3.3" stroke-linejoin="round"/><g fill="#008000"><circle cx="881.5" cy="19.1" r="5.85"/><circle cx="881.5" cy="20.7" r="5.85"/><circle cx="881.5" cy="22.3" r="5.85"/><circle cx="881.5" cy="23.8" r="5.85"/><circle cx="881.5" cy="25.4" r="5.85"/><circle cx="881.5" cy="27" r="5.85"/><circle cx="881.5" cy="28.6" r="5.85"/><circle cx="881.5" cy="30.9" r="5.85"/><circle cx="887.5" cy="34.9" r="5.85"/><circle cx="890.4" cy="38.8" r="5.85"/><circle cx="891.2" cy="42.7" r="5.85"/><circle cx="890.4" cy="46.7" r="5.85"/><circle cx="888.2" cy="50.6" r="5.85"/><circle cx="886.7" cy="54.6" r="5.85"/><circle cx="886" cy="58.5" r="5.85"/><circle cx="888.2" cy="66.4" r="5.85"/><circle cx="900.5" cy="74.3" r="5.85"/><circle cx="922.7" cy="82.2" r="5.85"/><circle cx="942.6" cy="90" r="5.85"/><circle cx="953.7" cy="97.9" r="5.85"/><circle cx="932.4" cy="117.6" r="5.85"/><circle cx="904" cy="137.3" r="5.85"/><circle cx="877.4" cy="176.7" r="5.85"/><circle cx="860.1" cy="216.2" r="5.85"/><circle cx="843.5" cy="255.6" r="5.85"/><circle cx="828.4" cy="295" r="5.85"/><circle cx="809.7" cy="334.4" r="5.85"/><circle cx="756.7" cy="413.2" r="5.85"/><circle cx="699" cy="492" r="5.85"/><circle cx="651.7" cy="570.8" r="5.85"/><circle cx="630" cy="649.7" r="5.85"/><circle cx="625.8" cy="728.5" r="5.85"/><circle cx="624.7" cy="807.3" r="5.85"/></g>
<polyline points="858.7,19.5 858.7,20.3 858.7,21.2 858.7,22.1 858.7,23.1 858.7,24.2 858.7,25.4 858.7,26.6 858.7,28.1 858.7,29.7 858.7,31.6 858.7,33.7 858.7,36.1 858.7,39 858.7,42.3 859.3,46.2 861.2,50.9 863.5,56.4 866.5,63.1 871,71 882.2,80.5 899.4,91.9 914.4,105.6 922.7,122.1 919.7,141.9 898.7,165.8 867.2,194.5 848.5,228.8 827.6,269.8 797.7,318.8 757.2,376.9 712.7,445.6 673,526.4 640.5,620.8 630.4,730.3" fill="none" stroke="#ff00ff" stroke-width="3.3" stroke-linejoin="round"/><g fill="#ff00ff"><circle cx="858.7" cy="19.5" r="5.85"/><circle cx="858.7" cy="20.3" r="5.85"/><circle cx="858.7" cy="21.2" r="5.85"/><circle cx="858.7" cy="22.1" r="5.85"/><circle cx="858.7" cy="23.1" r="5.85"/><circle cx="858.7" cy="24.2" r="5.85"/><circle cx="858.7" cy="25.4" r="5.85"/><circle cx="858.7" cy="26.6" r="5.85"/><circle cx="858.7" cy="28.1" r="5.85"/><circle cx="858.7" cy="29.7" r="5.85"/><circle cx="858.7" cy="31.6" r="5.85"/><circle cx="858.7" cy="33.7" r="5.85"/><circle cx="858.7" cy="36.1" r="5.85"/><circle cx="858.7" cy="39" r="5.85"/><circle cx="858.7" cy="42.3" r="5.85"/><circle cx="859.3" cy="46.2" r="5.85"/><circle cx="861.2" cy="50.9" r="5.85"/><circle cx="863.5" cy="56.4" r="5.85"/><circle cx="866.5" cy="63.1" r="5.85"/><circle cx="871" cy="71" r="5.85"/><circle cx="882.2" cy="80.5" r="5.85"/><circle cx="899.4" cy="91.9" r="5.85"/><circle cx="914.4" cy="105.6" r="5.85"/><circle cx="922.7" cy="122.1" r="5.85"/><circle cx="919.7" cy="141.9" r="5.85"/><circle cx="898.7" cy="165.8" r="5.85"/><circle cx="867.2" cy="194.5" r="5.85"/><circle cx="848.5" cy="228.8" r="5.85"/><circle cx="827.6" cy="269.8" r="5.85"/><circle cx="797.7" cy="318.8" r="5.85"/><circle cx="757.2" cy="376.9" r="5.85"/><circle cx="712.7" cy="445.6" r="5.85"/><circle cx="673" cy="526.4" r="5.85"/><circle cx="640.5" cy="620.8" r="5.85"/><circle cx="630.4" cy="730.3" r="5.85"/></g>
</g>
<g stroke="#000" stroke-width="1.35" fill="none"><rect x="588.5" y="19.4" width="399.1" height="795"/><path d="M588.5 19.1h-5.9"/><path d="M588.5 97.9h-5.9"/><path d="M588.5 176.7h-5.9"/><path d="M588.5 255.6h-5.9"/><path d="M588.5 334.4h-5.9"/><path d="M588.5 413.2h-5.9"/><path d="M588.5 492h-5.9"/><path d="M588.5 570.8h-5.9"/><path d="M588.5 649.7h-5.9"/><path d="M588.5 728.5h-5.9"/><path d="M588.5 807.3h-5.9"/><path d="M631.4 814.4v5.9"/><path d="M699.9 814.4v5.9"/><path d="M768.4 814.4v5.9"/><path d="M836.9 814.4v5.9"/><path d="M905.4 814.4v5.9"/><path d="M973.9 814.4v5.9"/></g><g class="tk"><text x="631.4" y="842.3" text-anchor="middle">35.0</text><text x="699.9" y="842.3" text-anchor="middle">35.5</text><text x="768.4" y="842.3" text-anchor="middle">36.0</text><text x="836.9" y="842.3" text-anchor="middle">36.5</text><text x="905.4" y="842.3" text-anchor="middle">37.0</text><text x="973.9" y="842.3" text-anchor="middle">37.5</text></g>
<g stroke="#b4b4b4" stroke-width="0.8" stroke-dasharray="3.1 1.35" fill="none"><path d="M1078.5 97.9H1477.2"/><path d="M1078.5 176.7H1477.2"/><path d="M1078.5 255.6H1477.2"/><path d="M1078.5 334.4H1477.2"/><path d="M1078.5 413.2H1477.2"/><path d="M1078.5 492H1477.2"/><path d="M1078.5 570.8H1477.2"/><path d="M1078.5 649.7H1477.2"/><path d="M1078.5 728.5H1477.2"/><path d="M1078.5 807.3H1477.2"/><path d="M1130.4 814.4V19.4"/><path d="M1210.6 814.4V19.4"/><path d="M1290.8 814.4V19.4"/><path d="M1371 814.4V19.4"/><path d="M1451.2 814.4V19.4"/></g>
<g clip-path="url(#c2)">
<polyline points="1111.4,19.4 1111.1,21.5 1111,23.5 1111,25.6 1110.5,27.7 1110.6,29.7 1111.2,31.8 1110.8,33.9 1111.7,35.9 1111.9,38 1113.3,39.8 1113.8,41.5 1114.7,43.2 1116.1,45 1117.4,46.4 1118.3,47.8 1120.6,49.2 1122.7,50.6 1123.9,52 1125,52.8 1127.6,53.7 1129.6,54.5 1130.7,55.3 1132.3,56.2 1133.7,57 1136.3,57.8 1137.8,58.7 1140.5,59.5 1142.8,60.3 1143.8,61.2 1146.1,62 1147.5,63.3 1149.6,64.7 1151.8,66 1152.9,67.3 1153.8,68.7 1156.4,70 1157.6,71.4 1159.7,72.9 1161.2,74.3 1162.8,75.7 1164.5,77.1 1165.8,78.6 1166.8,80 1167.3,81.4 1169.1,82.9 1170.4,84.3 1171.8,85.7 1173.9,87.1 1174.5,88.6 1176.4,90 1177,91.4 1178.9,92.9 1180.8,94.3 1181.7,95.7 1183.2,97.1 1185.4,98.6 1186.8,100 1188.6,101.5 1189.8,103 1190.9,104.5 1192.7,106 1194.4,107.2 1195.7,108.4 1197.3,109.6 1198.6,110.8 1201,112 1203.1,113.2 1204.4,114.4 1205.8,115.6 1207.7,116.8 1209.4,118 1212,119.3 1213.3,120.7 1214.6,122 1217,123.3 1218,124.7 1219.9,126 1221.3,127.3 1223.6,128.7 1225.3,130 1226.8,131.7 1227.4,133.3 1228.9,135 1230.2,136.7 1231.3,138.3 1232.9,140 1234.5,141.7 1234.9,143.3 1235.7,145 1236.7,146.9 1237.4,148.8 1238,150.6 1239.1,152.5 1240.1,154.4 1241.9,156.2 1243.2,158.1 1243.8,160 1244.8,161.8 1246,163.6 1247,165.5 1247.6,167.3 1248.2,169.1 1248.8,170.9 1251.1,172.8 1252.6,174.6 1252.9,176.4 1254.3,178.4 1256,180.3 1256.8,182.3 1256.8,184.2 1257.7,186.2 1258.5,188.1 1258.8,190.1 1259.9,192 1260.1,194 1261.7,195.9 1262.7,197.8 1263.5,199.7 1264.9,201.6 1265.6,203.5 1265.6,205.5 1265.8,207.4 1265.9,209.3 1266,211.2 1267.5,213.1 1268.9,215 1269,217 1269.1,219.1 1270,221.1 1271.2,223.2 1272.4,225.2 1272.2,227.3 1273.1,229.3 1274.1,231.4 1274.8,233.4 1274.7,235.5 1274.6,237.5 1275.8,239.5 1276.1,241.5 1276.5,243.5 1277.3,245.5 1277.8,247.4 1279.1,249.4 1279.2,251.4 1279.2,253.4 1280.2,255.4 1281.1,257.4 1282.2,259.5 1283,261.6 1284.1,263.6 1285.1,265.6 1285.2,267.7 1285.5,269.8 1285.3,271.8 1285.5,273.9 1286.2,275.9 1286.1,277.9 1287.2,280 1287.4,282 1288.3,284 1290,286 1290,288 1290.1,290 1291,292 1291.5,294 1292.9,296 1293,298 1294.6,300 1296,302 1297,304 1297.4,306 1297.6,308 1298.6,310 1299.2,312 1299.7,314 1300.1,316 1300.7,318 1301.9,320.1 1303.2,322.1 1304.5,324.2 1304.5,326.2 1304.9,328.3 1305.7,330.4 1306.6,332.4 1307.2,334.5 1307.5,336.5 1307.7,338.4 1308.5,340.4 1309.5,342.3 1311.2,344.3 1312.6,346.3 1313.8,348.2 1315,350.2 1316.1,352.2 1316.5,354.1 1317.3,356.1 1316.9,358 1317.7,360 1318.5,362 1318.7,364 1319.5,366 1321,368 1321.4,370 1322.3,372 1322.5,374 1322.9,376 1324.2,378 1324,380 1324.2,382 1325.3,384 1326,386 1326,388 1327.2,390 1327.7,392 1328.7,394 1329.3,396 1330,398 1330.9,400 1331.4,402 1331.4,404 1331.8,406 1333.3,408 1334.1,410 1334.3,413.5 1335.8,415.5 1336,417.5 1336.1,419.5 1337.1,421.5 1337.5,423.5 1338.4,425.5 1339.4,427.5 1339.7,429.6 1340.7,431.6 1340.9,433.6 1341.8,435.6 1342.9,437.6 1343,439.6 1343.7,441.6 1343.9,443.6 1344.9,445.6 1346.4,447.6 1347.2,449.5 1348.2,451.5 1349.2,453.5 1349,455.5 1350.5,457.4 1351.3,459.4 1351,461.4 1352.2,463.4 1352.5,465.3 1352.6,467.3 1354,469.3 1354.7,471.3 1355.6,473.2 1355.5,475.2 1356.5,477.2 1356.3,479.2 1356.6,481.1 1357.2,483.1 1357.2,485.1 1358.4,487.1 1358.7,489 1359.3,491 1360.5,492.9 1361.1,494.9 1362.5,496.8 1363.2,498.8 1364.3,500.7 1364.8,502.7 1365.9,504.6 1366.7,506.6 1366.4,508.5 1367.2,510.4 1367.3,512.4 1368.2,514.3 1368.9,516.3 1369.8,518.2 1369.5,520.2 1369.8,522.1 1370.8,524.1 1372,526 1372.7,527.9 1372.3,529.8 1373.1,531.7 1373,533.7 1373.8,535.6 1374.9,537.5 1374.8,539.4 1376.3,541.3 1377.1,543.2 1377.1,545.1 1377.2,547 1377.9,549 1379.1,550.9 1379.8,552.8 1379.7,554.7 1379.6,556.6 1379.9,558.5 1381.4,560.4 1381.6,562.3 1382.5,564.3 1383,566.2 1384.1,568.1 1384.6,570 1384.7,571.9 1386.2,573.9 1386.9,575.8 1387.8,577.8 1388.8,579.7 1390,581.7 1389.5,583.6 1389.8,585.5 1389.9,587.5 1390.7,589.4 1392,591.4 1393.1,593.3 1392.7,595.2 1392.9,597.2 1394.2,599.1 1395.1,601.1 1395.5,603 1396.1,605 1396.1,606.9 1397.4,608.8 1397.9,610.8 1399.1,612.7 1399.8,614.7 1399.5,616.6 1399.9,618.6 1400.2,620.5 1401.6,622.4 1402.2,624.4 1402,626.3 1402.1,628.2 1402.7,630.2 1403.4,632.1 1404.3,634 1404.7,636 1405.2,637.9 1405,639.8 1406,641.8 1406.5,643.7 1406.5,645.6 1407.3,647.6 1408.9,649.5 1408.7,651.5 1408.9,653.4 1410,655.4 1410.3,657.4 1410.6,659.3 1411.4,661.3 1411.7,663.2 1412.6,665.2 1413.3,667.2 1414.7,669.1 1415.9,671.1 1415.4,673 1416,675 1416.9,677 1417.9,678.9 1418.6,680.9 1419.1,682.9 1419.5,684.8 1419.6,686.8 1419.6,688.8 1420.6,690.7 1421.6,692.7 1422.6,694.6 1423,696.6 1422.9,698.6 1423.6,700.5 1424.3,702.5 1424.6,704.5 1425.1,706.4 1425.2,708.4 1425.7,710.3 1425.9,712.3 1425.7,714.3 1426.1,716.2 1426.5,718.2 1428.1,720.1 1428.5,722.1 1428.8,724.1 1428.9,726 1429.2,728 1429.8,729.9 1430.1,731.9 1430.2,733.8 1431.9,735.8 1432.7,737.7 1433.4,739.7 1434.3,741.6 1434.7,743.6 1435,745.5 1435.1,747.5 1435.8,749.4 1436.5,751.4 1437.9,753.3 1438.8,755.3 1440.3,757.2 1440.6,759.2 1441.9,761.1 1442.5,763.1 1442.3,765" fill="none" stroke="#00ffff" stroke-width="13.6" stroke-linejoin="round" stroke-linecap="round"/><polyline points="1111.6,19.4 1111.7,21.1 1111.5,22.8 1111.3,24.5 1111.1,26.2 1111.1,27.9 1112,29.5 1112.7,31.2 1113.1,32.9 1112.3,34.6 1111.9,36.3 1112.5,38 1112.6,39.4 1113.7,40.8 1114.2,42.2 1115.7,43.6 1115.7,45 1117.5,46.2 1118.6,47.3 1119.5,48.5 1120.3,49.7 1122.3,50.8 1123.8,52 1125,52.7 1126.6,53.4 1128.9,54.1 1130,54.9 1131.8,55.6 1132.9,56.3 1134.1,57 1136.3,57.7 1138.2,58.4 1139.4,59.1 1140.5,59.9 1141.7,60.6 1143.7,61.3 1145.4,62 1146.5,63 1147.6,64 1149.2,65 1150.9,66 1152.6,67 1153.9,68 1154.6,69 1155.3,70 1157,71.2 1158.2,72.5 1159.8,73.8 1160.5,75 1162.3,76.2 1163.3,77.5 1165.1,78.8 1166.7,80 1167.8,81.2 1168.2,82.5 1170.1,83.8 1171.2,85 1172.9,86.2 1173.7,87.5 1174.5,88.8 1176.2,90 1177.3,91.2 1178,92.5 1179.2,93.8 1180.7,95 1181.4,96.2 1182.9,97.5 1184.2,98.8 1185.6,100 1186.7,101.2 1188.7,102.4 1190.6,103.6 1192.6,104.8 1193.6,106 1195.2,107 1196.4,108 1198,109 1198.7,110 1200.6,111 1202.6,112 1203.7,113 1205,114 1206.3,115 1207.6,116 1208.2,117 1210.3,118 1211.1,119 1212,120 1212.8,121 1214,122 1215.9,123 1216.6,124 1217.5,125 1219.4,126 1220.4,127 1221.2,128 1222.9,129 1224.5,130 1225.6,131.4 1227,132.7 1227.5,134.1 1229.1,135.5 1230.4,136.8 1230.7,138.2 1231.2,139.5 1232.4,140.9 1233.6,142.3 1234.4,143.6 1235,145 1236,146.5 1236.7,148 1238,149.5 1239.5,151 1240,152.5 1241.1,154 1242.4,155.5 1242.8,157 1244.3,158.5 1245.7,160 1246.2,161.5 1246.8,163 1248,164.5 1248.6,166 1249.2,167.5 1250.5,168.9 1251.5,170.4 1251.8,171.9 1252.1,173.4 1252.7,174.9 1253.5,176.4 1254.8,178 1255.8,179.6 1256.9,181.2 1257.7,182.8 1258.5,184.4 1258.3,186 1258.8,187.6 1260.1,189.2 1261.1,190.8 1261.1,192.4 1261.5,194 1262.2,195.6 1262.5,197.2 1263.1,198.8 1263,200.5 1263.6,202.1 1264.3,203.7 1264.3,205.3 1264.7,206.9 1266.2,208.5 1267.2,210.2 1268.3,211.8 1268.9,213.4 1269.7,215 1270.4,216.6 1271,218.2 1270.4,219.8 1271,221.4 1270.9,223 1271.6,224.6 1271.6,226.2 1272.1,227.9 1273.1,229.5 1273.6,231.1 1273.5,232.7 1274,234.3 1274.3,235.9 1275.3,237.5 1275.4,239.1 1275.7,240.8 1276.4,242.4 1276.4,244 1277.2,245.6 1278.4,247.3 1278.9,248.9 1279,250.5 1279.5,252.1 1280.1,253.8 1280.2,255.4 1280.3,257 1280.4,258.7 1280.9,260.3 1281.5,262 1281.9,263.6 1282.3,265.2 1282.4,266.9 1283.3,268.5 1284.4,270.2 1285.1,271.8 1285.7,273.4 1286.3,275.1 1286.3,276.7 1287.1,278.4 1287.4,280 1288.1,281.5 1288.8,283.1 1289.3,284.6 1289.6,286.2 1289.9,287.7 1290.2,289.2 1291,290.8 1291.5,292.3 1292.4,293.8 1292.4,295.4 1293,296.9 1294.3,298.5 1294.5,300 1295.3,301.6 1295.9,303.3 1296.2,304.9 1297.5,306.5 1297.7,308.2 1298.6,309.8 1298.6,311.5 1298.6,313.1 1299.9,314.7 1300.3,316.4 1300.3,318 1300.9,319.5 1301.6,321 1302.7,322.5 1302.7,324 1303.1,325.5 1304.5,327 1305.5,328.5 1305.5,330 1305.9,331.5 1306.4,333 1307.4,334.5 1308.1,336 1309.1,337.5 1310,339 1310.4,340.5 1311.1,342 1311.8,343.5 1312.5,345 1312.7,346.5 1313.5,348 1314.1,349.5 1315,351 1314.7,352.5 1315.6,354 1315.3,355.5 1316.2,357 1316.8,358.5 1317.3,360 1318.4,361.6 1318.9,363.2 1319.2,364.8 1320.1,366.4 1321,368 1321.5,369.6 1321.7,371.2 1322.1,372.8 1322.6,374.4 1323.4,376 1323.6,377.5 1323.9,379.1 1324.5,380.6 1324.9,382.2 1325.2,383.7 1326.2,385.3 1327.1,386.8 1327.5,388.4 1327.8,389.9 1327.8,391.5 1328.2,393 1328.3,394.5 1329.1,396.1 1329.9,397.6 1329.9,399.2 1331.1,400.7 1331.4,402.3 1332.4,403.8 1333.3,405.4 1334.3,406.9 1334.1,408.5 1334.4,410 1335.3,411.8 1334.9,413.5 1334.8,415 1335.6,416.6 1336.2,418.1 1337.4,419.6 1338.2,421.1 1338.7,422.7 1339.7,424.2 1340,425.7 1340.3,427.3 1341,428.8 1341.2,430.3 1341.4,431.8 1342,433.4 1342.3,434.9 1343.4,436.4 1344,438 1344.4,439.5 1344.3,441 1344.7,442.5 1345.1,444.1 1345.8,445.6 1346.5,447.2 1347.5,448.7 1348.5,450.3 1348.7,451.9 1349,453.4 1349.5,455 1350.6,456.6 1350.6,458.1 1351,459.7 1351.8,461.3 1351.6,462.8 1351.9,464.4 1353,466 1353.8,467.5 1354.2,469.1 1354,470.6 1355,472.2 1355.6,473.8 1356.4,475.3 1357.3,476.9 1358,478.5 1358,480 1357.8,481.6 1358,483.2 1358.5,484.7 1359,486.3 1359.1,487.9 1359.3,489.4 1360.1,491 1360.8,492.6 1361.1,494.2 1362.4,495.8 1362.9,497.4 1362.7,499 1363.1,500.5 1364,502.1 1364.2,503.7 1365,505.3 1364.7,506.9 1365.1,508.5 1366.2,510.1 1366.8,511.7 1367.5,513.3 1367.5,514.9 1368,516.5 1368.6,518 1368.7,519.6 1369.5,521.2 1370,522.8 1371.2,524.4 1371.6,526 1371.8,527.6 1371.7,529.1 1371.8,530.7 1372.9,532.3 1372.9,533.9 1373,535.4 1373.3,537 1374.1,538.6 1375.3,540.1 1376,541.7 1376.9,543.3 1376.7,544.9 1376.6,546.4 1377.7,548 1378,549.6 1378.9,551.1 1379.3,552.7 1379.4,554.3 1379.7,555.9 1379.9,557.4 1381.2,559 1381.9,560.6 1382.2,562.1 1382.7,563.7 1383.1,565.3 1383.1,566.9 1384.4,568.4 1385,570 1386.1,571.5 1386.4,573.1 1386.9,574.6 1386.9,576.1 1386.8,577.7 1388,579.2 1389,580.7 1389.1,582.2 1390,583.8 1390.8,585.3 1390.8,586.8 1391.3,588.4 1392.3,589.9 1392.5,591.4 1393.4,593 1393.3,594.5 1393.5,596 1394.2,597.5 1394.2,599.1 1394.4,600.6 1395.5,602.1 1395.9,603.7 1396.7,605.2 1396.7,606.7 1396.7,608.3 1397.1,609.8 1397.3,611.3 1398.6,612.8 1398.8,614.4 1399.4,615.9 1399.4,617.4 1400.1,619 1400.5,620.5 1401,622.1 1400.9,623.7 1401.1,625.3 1402.3,626.9 1402.7,628.6 1402.9,630.2 1403.1,631.8 1403.5,633.4 1403.9,635 1404,636.6 1405,638.2 1405.5,639.8 1405.7,641.4 1406.7,643.1 1406.7,644.7 1407.1,646.3 1408.2,647.9 1408.3,649.5 1408.8,651.1 1409.8,652.6 1410.7,654.2 1410.5,655.8 1410.8,657.4 1411.6,658.9 1411.8,660.5 1412.9,662.1 1412.8,663.6 1413.8,665.2 1414.1,666.8 1414,668.3 1414.4,669.9 1414.3,671.5 1415.2,673 1415.3,674.6 1416.4,676.2 1416.8,677.8 1417,679.3 1417.1,680.9 1417.7,682.5 1417.8,684 1418.8,685.6 1418.7,687.2 1419.2,688.8 1419.8,690.3 1419.9,691.9 1420.8,693.5 1421.1,695 1421.7,696.6 1422.2,698.2 1422.3,699.7 1422.6,701.3 1422.5,702.9 1422.7,704.5 1423.9,706 1424.1,707.6 1424.8,709.2 1424.8,710.7 1425.4,712.3 1425.8,713.9 1426.3,715.4 1426.5,717 1426.5,718.6 1426.9,720.1 1427.2,721.7 1427.4,723.3 1428.4,724.9 1428.8,726.4 1429.2,728 1430.5,729.5 1431.4,731.1 1432.4,732.6 1433.2,734.2 1432.9,735.7 1433.1,737.2 1433,738.8 1433.9,740.3 1434.7,741.9 1435,743.4 1435.5,745 1436.3,746.5 1437.1,748 1437.2,749.6 1438.2,751.1 1438.4,752.7 1439.1,754.2 1439.1,755.8 1439.2,757.3 1440.4,758.8 1441.3,760.4 1442,761.9 1441.8,763.5 1441.7,765" fill="none" stroke="#0000ff" stroke-width="12.6" stroke-linejoin="round" stroke-linecap="round"/>
<polyline points="1098.2,19.1 1098.2,20.7 1098.2,22.3 1098.2,23.8 1098.2,25.4 1098.2,27 1099,28.6 1100.5,30.9 1104,34.9 1107.9,38.8 1112.9,42.7 1117.9,46.7 1122.9,50.6 1128.9,54.6 1134.9,58.5 1146.7,66.4 1156.7,74.3 1164.7,82.2 1176.7,90 1184.1,97.9 1206.7,117.6 1223.1,137.3 1244.6,176.7 1273.2,216.2 1285.9,255.6 1297.2,295 1309.4,334.4 1337.4,413.2 1363.4,492 1387.9,570.8 1411.9,649.7 1433.2,728.5 1455.4,807.3" fill="none" stroke="#ff0000" stroke-width="3.3" stroke-linejoin="round"/>
<polyline points="1098.2,19.1 1098.2,20.7 1098.2,22.3 1098.2,23.8 1098.2,25.4 1098.2,27 1099,28.6 1100.5,30.9 1104,34.9 1108,38.8 1113,42.7 1118,46.7 1123,50.6 1129,54.6 1135,58.5 1147,66.4 1157,74.3 1165,82.2 1177,90 1184.4,97.9 1207,117.6 1223.4,137.3 1245.2,176.7 1274,216.2 1286.7,255.6 1297.5,295 1309.5,334.4 1337.5,413.2 1363.5,492 1388,570.8 1412,649.7 1434,728.5 1456.7,807.3" fill="none" stroke="#ff0000" stroke-width="3.3" stroke-linejoin="round"/><g fill="#ff0000"><circle cx="1098.2" cy="19.1" r="5.85"/><circle cx="1098.2" cy="20.7" r="5.85"/><circle cx="1098.2" cy="22.3" r="5.85"/><circle cx="1098.2" cy="23.8" r="5.85"/><circle cx="1098.2" cy="25.4" r="5.85"/><circle cx="1098.2" cy="27" r="5.85"/><circle cx="1099" cy="28.6" r="5.85"/><circle cx="1100.5" cy="30.9" r="5.85"/><circle cx="1104" cy="34.9" r="5.85"/><circle cx="1108" cy="38.8" r="5.85"/><circle cx="1113" cy="42.7" r="5.85"/><circle cx="1118" cy="46.7" r="5.85"/><circle cx="1123" cy="50.6" r="5.85"/><circle cx="1129" cy="54.6" r="5.85"/><circle cx="1135" cy="58.5" r="5.85"/><circle cx="1147" cy="66.4" r="5.85"/><circle cx="1157" cy="74.3" r="5.85"/><circle cx="1165" cy="82.2" r="5.85"/><circle cx="1177" cy="90" r="5.85"/><circle cx="1184.4" cy="97.9" r="5.85"/><circle cx="1207" cy="117.6" r="5.85"/><circle cx="1223.4" cy="137.3" r="5.85"/><circle cx="1245.2" cy="176.7" r="5.85"/><circle cx="1274" cy="216.2" r="5.85"/><circle cx="1286.7" cy="255.6" r="5.85"/><circle cx="1297.5" cy="295" r="5.85"/><circle cx="1309.5" cy="334.4" r="5.85"/><circle cx="1337.5" cy="413.2" r="5.85"/><circle cx="1363.5" cy="492" r="5.85"/><circle cx="1388" cy="570.8" r="5.85"/><circle cx="1412" cy="649.7" r="5.85"/><circle cx="1434" cy="728.5" r="5.85"/><circle cx="1456.7" cy="807.3" r="5.85"/></g>
<polyline points="1098.2,19.1 1098.2,20.7 1098.2,22.3 1098.2,23.8 1098.2,25.4 1098.2,27 1099,28.6 1100.5,30.9 1104,34.9 1108.1,38.8 1113.1,42.7 1118.1,46.7 1123.1,50.6 1129.1,54.6 1135.1,58.5 1147.3,66.4 1157.3,74.3 1165.3,82.2 1177.3,90 1184.8,97.9 1207.3,117.6 1223.8,137.3 1245.8,176.7 1274.8,216.2 1287.5,255.6 1297.8,295 1309.6,334.4 1337.6,413.2 1363.6,492 1388.1,570.8 1412.1,649.7 1434.8,728.5 1458,807.3" fill="none" stroke="#ff0000" stroke-width="3.3" stroke-linejoin="round"/>
<polyline points="1116.2,19.1 1116.2,20.7 1116.2,22.3 1116.2,23.8 1116.2,25.4 1116.2,27 1116.2,28.6 1117,30.9 1119.5,34.9 1123,38.8 1127.5,42.7 1131.2,46.7 1135,50.6 1139.5,54.6 1143.2,58.5 1155.5,66.4 1166.5,74.3 1176.7,82.2 1186.7,90 1193.4,97.9 1215.2,117.6 1235.4,137.3 1254.5,176.7 1268.7,216.2 1282.2,255.6 1295.5,295 1308.4,334.4 1336.7,413.2 1362.5,492 1386.7,570.8 1410.3,649.7 1432,728.5 1455.5,807.3" fill="none" stroke="#008000" stroke-width="3.3" stroke-linejoin="round"/><g fill="#008000"><circle cx="1116.2" cy="19.1" r="5.85"/><circle cx="1116.2" cy="20.7" r="5.85"/><circle cx="1116.2" cy="22.3" r="5.85"/><circle cx="1116.2" cy="23.8" r="5.85"/><circle cx="1116.2" cy="25.4" r="5.85"/><circle cx="1116.2" cy="27" r="5.85"/><circle cx="1116.2" cy="28.6" r="5.85"/><circle cx="1117" cy="30.9" r="5.85"/><circle cx="1119.5" cy="34.9" r="5.85"/><circle cx="1123" cy="38.8" r="5.85"/><circle cx="1127.5" cy="42.7" r="5.85"/><circle cx="1131.2" cy="46.7" r="5.85"/><circle cx="1135" cy="50.6" r="5.85"/><circle cx="1139.5" cy="54.6" r="5.85"/><circle cx="1143.2" cy="58.5" r="5.85"/><circle cx="1155.5" cy="66.4" r="5.85"/><circle cx="1166.5" cy="74.3" r="5.85"/><circle cx="1176.7" cy="82.2" r="5.85"/><circle cx="1186.7" cy="90" r="5.85"/><circle cx="1193.4" cy="97.9" r="5.85"/><circle cx="1215.2" cy="117.6" r="5.85"/><circle cx="1235.4" cy="137.3" r="5.85"/><circle cx="1254.5" cy="176.7" r="5.85"/><circle cx="1268.7" cy="216.2" r="5.85"/><circle cx="1282.2" cy="255.6" r="5.85"/><circle cx="1295.5" cy="295" r="5.85"/><circle cx="1308.4" cy="334.4" r="5.85"/><circle cx="1336.7" cy="413.2" r="5.85"/><circle cx="1362.5" cy="492" r="5.85"/><circle cx="1386.7" cy="570.8" r="5.85"/><circle cx="1410.3" cy="649.7" r="5.85"/><circle cx="1432" cy="728.5" r="5.85"/><circle cx="1455.5" cy="807.3" r="5.85"/></g>
<polyline points="1107.2,19.5 1107.2,20.3 1107.2,21.2 1107.2,22.1 1107.2,23.1 1107.2,24.2 1107.2,25.4 1107.2,26.6 1107.2,28.1 1107.2,29.7 1107.2,31.6 1107.2,33.7 1107.2,36.1 1107.2,39 1108.7,42.3 1110.7,46.2 1113.7,50.9 1120,56.4 1128.2,63.1 1140.2,71 1153,80.5 1168.4,91.9 1185.6,105.6 1202.4,122.1 1221.2,141.9 1243.5,165.8 1260.5,194.5 1273.2,228.8 1287.5,269.8 1303.5,318.8 1323.4,376.9 1346.7,445.6 1372.1,526.4 1402.5,620.8 1437.1,730.3" fill="none" stroke="#ff00ff" stroke-width="3.3" stroke-linejoin="round"/><g fill="#ff00ff"><circle cx="1107.2" cy="19.5" r="5.85"/><circle cx="1107.2" cy="20.3" r="5.85"/><circle cx="1107.2" cy="21.2" r="5.85"/><circle cx="1107.2" cy="22.1" r="5.85"/><circle cx="1107.2" cy="23.1" r="5.85"/><circle cx="1107.2" cy="24.2" r="5.85"/><circle cx="1107.2" cy="25.4" r="5.85"/><circle cx="1107.2" cy="26.6" r="5.85"/><circle cx="1107.2" cy="28.1" r="5.85"/><circle cx="1107.2" cy="29.7" r="5.85"/><circle cx="1107.2" cy="31.6" r="5.85"/><circle cx="1107.2" cy="33.7" r="5.85"/><circle cx="1107.2" cy="36.1" r="5.85"/><circle cx="1107.2" cy="39" r="5.85"/><circle cx="1108.7" cy="42.3" r="5.85"/><circle cx="1110.7" cy="46.2" r="5.85"/><circle cx="1113.7" cy="50.9" r="5.85"/><circle cx="1120" cy="56.4" r="5.85"/><circle cx="1128.2" cy="63.1" r="5.85"/><circle cx="1140.2" cy="71" r="5.85"/><circle cx="1153" cy="80.5" r="5.85"/><circle cx="1168.4" cy="91.9" r="5.85"/><circle cx="1185.6" cy="105.6" r="5.85"/><circle cx="1202.4" cy="122.1" r="5.85"/><circle cx="1221.2" cy="141.9" r="5.85"/><circle cx="1243.5" cy="165.8" r="5.85"/><circle cx="1260.5" cy="194.5" r="5.85"/><circle cx="1273.2" cy="228.8" r="5.85"/><circle cx="1287.5" cy="269.8" r="5.85"/><circle cx="1303.5" cy="318.8" r="5.85"/><circle cx="1323.4" cy="376.9" r="5.85"/><circle cx="1346.7" cy="445.6" r="5.85"/><circle cx="1372.1" cy="526.4" r="5.85"/><circle cx="1402.5" cy="620.8" r="5.85"/><circle cx="1437.1" cy="730.3" r="5.85"/></g>
</g>
<g stroke="#000" stroke-width="1.35" fill="none"><rect x="1078.5" y="19.4" width="398.7" height="795"/><path d="M1078.5 19.1h-5.9"/><path d="M1078.5 97.9h-5.9"/><path d="M1078.5 176.7h-5.9"/><path d="M1078.5 255.6h-5.9"/><path d="M1078.5 334.4h-5.9"/><path d="M1078.5 413.2h-5.9"/><path d="M1078.5 492h-5.9"/><path d="M1078.5 570.8h-5.9"/><path d="M1078.5 649.7h-5.9"/><path d="M1078.5 728.5h-5.9"/><path d="M1078.5 807.3h-5.9"/><path d="M1130.4 814.4v5.9"/><path d="M1210.6 814.4v5.9"/><path d="M1290.8 814.4v5.9"/><path d="M1371 814.4v5.9"/><path d="M1451.2 814.4v5.9"/></g><g class="tk"><text transform="translate(1133.6 854.3) rotate(-45)" text-anchor="middle">1024</text><text transform="translate(1213.8 854.3) rotate(-45)" text-anchor="middle">1026</text><text transform="translate(1294 854.3) rotate(-45)" text-anchor="middle">1028</text><text transform="translate(1374.2 854.3) rotate(-45)" text-anchor="middle">1030</text><text transform="translate(1454.4 854.3) rotate(-45)" text-anchor="middle">1032</text></g>
<g class="lb">
<text transform="translate(29.1 417) rotate(-90)" text-anchor="middle">Depth (m)</text>
<text x="300.2" y="871.9" text-anchor="middle">Temperature (<tspan class="mi" dy="-9.2" font-size="15.7">o</tspan><tspan class="mi" dy="9.2" dx="1.3">C</tspan>)</text>
<text x="788" y="870.2" text-anchor="middle">Salinity</text>
<text x="1276.7" y="896.4" text-anchor="middle">Density (kg m-3)</text>
</g>
<text class="ft" xml:space="preserve" x="343.5" y="917.8">Ocean Heat Content (kJ/cm^2) - Glider: 52.8960,  RTOFS: 53.8202,  ESPC: 49.1333,  CMEMS: 70.8125,</text>
<g class="inf">
<text x="1527.2" y="36.7">Comparison Date: 2025-08-02</text>
<text x="1527.2" y="89.8">Glider: ng783</text>
<text x="1527.2" y="116.4">Profiles: 2</text>
<text x="1527.2" y="142.9">First: 2025-08-02 07:42:17</text>
<text x="1527.2" y="169.4">Last: 2025-08-02 09:36:09</text>
<text x="1527.2" y="196">Method: Nearest-Neighbor</text>
</g>
<rect x="1683.9" y="647" width="165.2" height="143.9" rx="3.6" fill="#fff" stroke="#ccc" stroke-width="1.45"/>
<path d="M1692 666.8h48" stroke="#0000ff" stroke-width="3.3"/><circle cx="1716.2" cy="666.8" r="5.9" fill="#0000ff"/>
<text class="lg" x="1757" y="675.3">ng783</text>
<path d="M1692 701.1h48" stroke="#ff0000" stroke-width="3.3"/><circle cx="1716.2" cy="701.1" r="5.9" fill="#ff0000"/>
<text class="lg" x="1757" y="709.6">RTOFS</text>
<path d="M1692 735.4h48" stroke="#008000" stroke-width="3.3"/><circle cx="1716.2" cy="735.4" r="5.9" fill="#008000"/>
<text class="lg" x="1757" y="743.9">ESPC</text>
<path d="M1692 769.7h48" stroke="#ff00ff" stroke-width="3.3"/><circle cx="1716.2" cy="769.7" r="5.9" fill="#ff00ff"/>
<text class="lg" x="1757" y="778.2">CMEMS</text>
<g class="mp">
<defs><clipPath id="mc"><rect x="1567.1" y="307.1" width="399.4" height="219.1"/></clipPath></defs>
<rect x="1567.1" y="307.1" width="399.4" height="219.1" fill="#97b6e1"/>
<g clip-path="url(#mc)">
<g fill="#d2b48c" stroke="#000" stroke-width="2.3" stroke-linejoin="round">
<path d="M1567.1 335.3 1570.7 334.3 1576.1 332.4 1581.4 332.7 1586.8 333.4 1592.1 332.3 1595.9 334.3 1596.9 338 1594.8 342.8 1591.6 347.1 1588.4 352.5 1586.6 357.8 1586.8 362.1 1585.2 366.4 1583 371.7 1581.4 377.1 1580.3 383.5 1578.4 391 1576.6 398.5 1575 399 1572.7 405 1569.3 409.2 1575 411.3 1582.5 409.5 1590 410.4 1597.5 409.5 1605 408.6 1615.5 408.6 1623 409.5 1627.5 412.5 1632 415.5 1638 419.2 1642 422.2 1641.7 429 1639.5 435 1638 442.5 1637.2 450 1635 457.5 1633.9 465 1633.2 471 1635 477 1639.5 483 1644 489 1650 493.4 1656 497.9 1661.9 501.7 1667.9 502.4 1673.9 500.9 1679.9 497.9 1684.4 494.9 1687.4 492.7 1694.9 492.4 1702.4 494.9 1709.9 499.4 1715.9 505.4 1720.4 508.4 1723.1 512.2 1724.9 505.4 1730.9 497.9 1735.4 491.9 1739.9 483 1744.4 477 1749.2 472.5 1749 472.5 1753.5 477.3 1756.5 471.7 1762.5 471 1770 468 1777.5 463.5 1783.5 459 1789.5 455.2 1796.2 458.2 1795.8 462 1791 464.5 1786.8 465.3 1788 471 1791 475.8 1800 473.2 1806 470.2 1809 468.7 1810.5 466.8 1812.7 466.8 1815 468.7 1822.5 467.7 1828.5 470.2 1833 474 1835.2 478.8 1839 481 1847.9 480 1856.9 478.9 1861.4 480 1864.4 483 1870.4 485.5 1876.4 486.3 1880.9 483.7 1883.9 481.5 1887.7 480 1895.9 479.2 1901.9 478.5 1912.4 477.7 1920.7 477.3 1928.2 476.5 1927.7 486 1919.9 486.7 1922.9 491.9 1927.4 496.4 1930.4 502.4 1933.4 505.4 1940.9 506.9 1946.9 511.4 1952.9 515.9 1957.4 520.4 1960.4 527.2 1712.9 527.2 1708.4 521.9 1704.2 516.7 1702.4 511.4 1704.7 508.4 1700.9 504.7 1694.9 502.1 1688.9 502.7 1685.2 500.6 1681.4 503.9 1677.2 508.4 1678.7 512.9 1683.2 517.4 1681.7 520.7 1675.4 523.4 1670.9 522.7 1670.2 517.4 1667.9 514.4 1663.4 511.4 1659 509.9 1656 511.7 1650 509.9 1645.5 511.7 1644 508.4 1638 506.2 1635 503.9 1636.5 500.9 1632 494.9 1626 493.4 1623 490.4 1617 492.2 1614 487.5 1609.5 486 1608 481.5 1611 477 1609.5 474 1605 469.5 1599 463.5 1594.5 457.5 1588.5 451.5 1584 448.5 1579.5 446.5 1575 446.4 1566 445.5 1566.4 335.3Z"/>
<path d="M1618.4 328.9 1624.2 324.8 1628.5 320.6 1634.9 317.1 1643.5 313.9 1652.1 311.2 1661.7 310.7 1670.3 310.2 1677.8 311.2 1685.3 313.9 1691.7 317.7 1699.2 319.8 1706.7 321.4 1712 324.6 1717.4 330 1723.8 334.3 1731.3 338 1738.8 340.1 1742 342.8 1748.4 345 1753.8 348.2 1758.3 351.6 1757 353.2 1750.6 354.1 1744.2 355.7 1736.7 355.1 1729.2 355.7 1720.6 356.7 1712 357 1714.2 353.5 1718.5 350.3 1719.5 347.1 1715.2 345.5 1709.9 345 1706.7 342.8 1703.5 338.5 1701.3 334.3 1697 332.1 1691.7 332.1 1686.3 330.5 1681 328.4 1675.6 326.2 1669.2 325.2 1662.8 324.1 1659.6 321.4 1660.9 319.8 1656.4 318.7 1651 318.2 1645.7 319.3 1641.4 321.9 1637.1 324.1 1632.8 325.7 1628.5 327.3 1624.2 329.4 1620 330.2Z"/>
<path d="M1641.4 332.1 1644.6 329.4 1648.3 330.5 1649.4 333.2 1645.7 335.3 1642.4 334.8Z"/>
<path d="M1703.5 377.6 1707.8 374.9 1714.2 374.4 1720.6 375.5 1727 378.2 1731.3 381.4 1731.8 383 1727 384 1720.6 385.7 1718.5 385.1 1712 383 1707.8 380.3Z"/>
<path d="M1766.8 357.8 1772.1 354.1 1775.3 353.5 1779.6 355.7 1785 357.8 1790.3 356.7 1797.8 355.7 1804.2 357.8 1810.7 359.4 1813.9 362.1 1814.9 365.3 1821.4 366.9 1825.7 368.5 1829.9 371.2 1833.4 373.9 1831 377.1 1828.9 379.8 1825.7 378.7 1821.4 376.6 1814.9 376 1809.6 377.6 1804.2 378.7 1800 378.2 1796.7 381.4 1793.5 385.7 1790.3 388.3 1789.3 384.6 1788.2 380.3 1782.8 378.7 1776.4 379.2 1770 379.8 1763.6 381.4 1760.3 381.4 1756.1 378.2 1753.9 374.9 1756.1 373.3 1761.4 373.3 1767.8 373.9 1774.3 374.4 1778.5 373.9 1780.7 371.7 1778.5 368.5 1776.4 364.2 1775.3 361 1771 360Z"/>
<path d="M1847.1 376 1853.5 374.9 1859.9 374.9 1865.3 376.6 1864.7 379.8 1859.9 381.9 1852.4 382.4 1847.6 382.4 1847.1 379.2Z"/>
</g>
<path d="M1790.7 475.2 1791.4 478.5 1788 484.5 1784.4 489.7 1785.9 495.2 1789.9 499.7 1795.8 498.8 1798.6 492.8 1796.7 486.7 1793.5 481.5 1792.6 478.5 1792.8 475.2Z" fill="#97b6e1" stroke="#000" stroke-width="1.8"/>
<path d="M1905.2 480.1 1912.4 479.5 1920.4 479.1 1920.8 486 1917.2 487.8 1910.9 487 1907.2 483.3Z" fill="#97b6e1" stroke="#000" stroke-width="1.8"/>
<circle cx="1811.4" cy="462.6" r="3.2" fill="#d2b48c" stroke="#000" stroke-width="2"/>
<path d="M1599 456 1605 458.7 1612.5 465 1620 471 1612.5 471.7 1608 465 1603.5 459.7Z" fill="#b3bccb" stroke="none"/>
<g fill="none" stroke="#9ab7e0" stroke-width="1.6">
<path d="M1749 473.2 1748.2 483 1752 494.9 1761 502.4 1762.5 509.9 1761 526.1"/>
<path d="M1849.4 525.7 1859.9 517.4 1870.4 514.4 1877.9 517.4 1882.4 512.9 1889.9 512.9 1901.9 508.4 1913.9 504.7 1925.9 500.9"/>
<path d="M1913.9 504.7 1912.4 497.9 1909.4 491.9"/>
<path d="M1913.9 497.9 1917.7 491.9"/>
<path d="M1596.7 440.2 1603.5 441.7 1608 438.7 1611 434.2 1620 426 1626 426.4 1638 422.2"/>
<path d="M1749.2 473.2 1750.1 480 1748.9 487.5 1750.4 493.4 1760 500.2"/>
<path d="M1620 471.7 1627.5 475.8 1634.2 477.7"/>
</g>
<g fill="none" stroke="#000" stroke-width="1.5" stroke-dasharray="5.2 2.4">
<path d="M1567 433.5 1575 435 1582.5 436.8 1584.7 442.5"/>
<path d="M1587 447 1594.5 445.5 1596 439.5 1603.5 436.5 1611 433.5 1617 429 1620 425.2 1626 426 1635 423 1641 421.5"/>
<path d="M1611 472.5 1620 473.2 1627.5 476.2 1634.2 477.7"/>
<path d="M1646.2 493.4 1644 499.4 1647 503.9 1645.2 508.4"/>
<path d="M1567 418.5 1572 414 1575.7 411.3"/>
<path d="M1721.2 509.2 1717.4 514.4 1711.4 518.9"/>
<path d="M1789.3 357.3 1788.7 364.2 1789.5 369.6 1786.3 373.3 1788.2 377.1 1788.7 380.3"/>
<path d="M1786.8 465.3 1780.5 471 1776 480 1773 489 1769.2 496.4 1774.5 499.4 1779 508.4 1779.7 517.4 1783.5 521.9 1794 524.9 1806 526.1"/>
<path d="M1942.4 509.2 1934.9 514.4 1931.2 520.4 1936.4 524.2"/>
</g>
<g fill="none" stroke="#000" stroke-width="4.6" stroke-linecap="round" stroke-linejoin="round">
<path d="M1667.1 310.2 1677.8 312 1686.3 315 1692.8 319.1 1700.3 320.9 1707.8 323 1713.1 326.8 1717.4 331"/>
</g>
<g fill="#000" stroke="#000" stroke-width="0.5">
<ellipse cx="1594.3" cy="348.7" rx="2.4" ry="3.4" transform="rotate(30 1594.3 348.7)"/>
<ellipse cx="1666.5" cy="363.9" rx="3" ry="1.5" transform="rotate(10 1666.5 363.9)"/>
<ellipse cx="1683.7" cy="358.7" rx="3.2" ry="1.3" transform="rotate(-8 1683.7 358.7)"/>
<ellipse cx="1621" cy="328.9" rx="3" ry="1.3" transform="rotate(-20 1621 328.9)"/>
<ellipse cx="1691.7" cy="340.1" rx="4.3" ry="1.3" transform="rotate(35 1691.7 340.1)"/>
<ellipse cx="1699.2" cy="343.9" rx="4.8" ry="1.3" transform="rotate(35 1699.2 343.9)"/>
<ellipse cx="1709.9" cy="347.6" rx="4.3" ry="1.3" transform="rotate(20 1709.9 347.6)"/>
<ellipse cx="1656.4" cy="332.1" rx="7.5" ry="1.3" transform="rotate(-12 1656.4 332.1)"/>
<ellipse cx="1659.6" cy="323" rx="6.4" ry="1.3" transform="rotate(15 1659.6 323)"/>
<ellipse cx="1637.1" cy="327.8" rx="2.7" ry="1.3" transform="rotate(5 1637.1 327.8)"/>
<ellipse cx="1772.1" cy="370.1" rx="4.8" ry="1.4" transform="rotate(25 1772.1 370.1)"/>
<ellipse cx="1819" cy="364.8" rx="4.1" ry="1.5"/>
<ellipse cx="1838.5" cy="380.3" rx="1.4" ry="1.3"/>
<ellipse cx="1869.6" cy="379.4" rx="1.9" ry="1.7"/>
<ellipse cx="1878.7" cy="376.6" rx="5.4" ry="1.3" transform="rotate(-18 1878.7 376.6)"/>
<ellipse cx="1884.5" cy="371.9" rx="1.5" ry="1.3"/>
<ellipse cx="1879.2" cy="385.3" rx="3" ry="1.3"/>
<ellipse cx="1896.3" cy="373.9" rx="1.3" ry="1.3"/>
<ellipse cx="1900.6" cy="379.4" rx="2.4" ry="1.5" transform="rotate(40 1900.6 379.4)"/>
<ellipse cx="1902.7" cy="382.7" rx="1.3" ry="1.3"/>
<ellipse cx="1898.5" cy="386.7" rx="1.3" ry="1.3"/>
<ellipse cx="1904.3" cy="390.5" rx="3" ry="1.3" transform="rotate(50 1904.3 390.5)"/>
<ellipse cx="1908.6" cy="394.8" rx="2.1" ry="1.3" transform="rotate(50 1908.6 394.8)"/>
<ellipse cx="1911.8" cy="398" rx="1.3" ry="1.3"/>
<ellipse cx="1916.7" cy="386.5" rx="1.5" ry="1.9"/>
<ellipse cx="1917.2" cy="394.2" rx="2.1" ry="1.7"/>
<ellipse cx="1746.4" cy="311.8" rx="4.3" ry="1.3" transform="rotate(55 1746.4 311.8)"/>
<ellipse cx="1763.6" cy="312.3" rx="1.5" ry="1.3"/>
<ellipse cx="1758.2" cy="319.8" rx="4.1" ry="1.3" transform="rotate(-40 1758.2 319.8)"/>
<ellipse cx="1756.1" cy="317.1" rx="2.1" ry="1.3" transform="rotate(20 1756.1 317.1)"/>
<ellipse cx="1765.7" cy="319.1" rx="1.5" ry="1.3"/>
<ellipse cx="1773.7" cy="322.3" rx="3.4" ry="1.3" transform="rotate(15 1773.7 322.3)"/>
<ellipse cx="1768.4" cy="340.1" rx="4.8" ry="1.4" transform="rotate(-8 1768.4 340.1)"/>
<ellipse cx="1772.7" cy="335.9" rx="1.3" ry="2.7" transform="rotate(20 1772.7 335.9)"/>
<ellipse cx="1782.8" cy="329.1" rx="3.7" ry="1.3" transform="rotate(-30 1782.8 329.1)"/>
<ellipse cx="1788.7" cy="329.4" rx="3.2" ry="1.3" transform="rotate(35 1788.7 329.4)"/>
<ellipse cx="1790.5" cy="335.3" rx="1.3" ry="2.7" transform="rotate(-10 1790.5 335.3)"/>
<ellipse cx="1796.5" cy="336.4" rx="1.3" ry="2.1" transform="rotate(25 1796.5 336.4)"/>
<ellipse cx="1906.4" cy="392.2" rx="3.7" ry="1.3" transform="rotate(50 1906.4 392.2)"/>
<ellipse cx="1911.7" cy="397.5" rx="1.5" ry="1.5"/>
<ellipse cx="1917.2" cy="393.7" rx="2.4" ry="2.1"/>
<ellipse cx="1921.7" cy="405.7" rx="4.8" ry="3.9"/>
<ellipse cx="1922.3" cy="416.2" rx="1.9" ry="3.3" transform="rotate(-10 1922.3 416.2)"/>
<ellipse cx="1927.4" cy="426.7" rx="3" ry="3.9" transform="rotate(-20 1927.4 426.7)"/>
<ellipse cx="1927.7" cy="435.7" rx="1.9" ry="3.3"/>
<ellipse cx="1924.7" cy="446.2" rx="1.5" ry="3" transform="rotate(10 1924.7 446.2)"/>
<ellipse cx="1921.4" cy="453.7" rx="1.3" ry="3.3" transform="rotate(25 1921.4 453.7)"/>
<ellipse cx="1918.1" cy="459.9" rx="1.5" ry="2.4" transform="rotate(25 1918.1 459.9)"/>
<ellipse cx="1946.1" cy="445.8" rx="2.2" ry="2.2"/>
<ellipse cx="1931.3" cy="471.3" rx="3.3" ry="1.3" transform="rotate(-30 1931.3 471.3)"/>
<ellipse cx="1811.4" cy="454.2" rx="1.3" ry="2.4" transform="rotate(-20 1811.4 454.2)"/>
<ellipse cx="1824.7" cy="458.2" rx="4.2" ry="1.5" transform="rotate(35 1824.7 458.2)"/>
<ellipse cx="1833" cy="459" rx="2.1" ry="2.1"/>
<ellipse cx="1842.7" cy="461.2" rx="2.1" ry="1.3" transform="rotate(15 1842.7 461.2)"/>
<ellipse cx="1853.5" cy="463.2" rx="2.7" ry="1.9"/>
<ellipse cx="1860.8" cy="463.5" rx="1.5" ry="1.3"/>
<ellipse cx="1881.2" cy="463.5" rx="1.8" ry="1.3"/>
<ellipse cx="1887.7" cy="475.8" rx="4.5" ry="3.3"/>
<ellipse cx="1889.9" cy="473.2" rx="1.5" ry="2.1" transform="rotate(40 1889.9 473.2)"/>
<ellipse cx="1871.6" cy="475.2" rx="2.2" ry="1.5"/>
<ellipse cx="1900.1" cy="469.2" rx="1.3" ry="1.3"/>
<ellipse cx="1664.9" cy="443.2" rx="1.3" ry="1.3"/>
<ellipse cx="1660.4" cy="454.5" rx="1.3" ry="1.3"/>
<ellipse cx="1593" cy="407.2" rx="1.5" ry="1.3"/>
<ellipse cx="1602.7" cy="403.8" rx="6" ry="1.3" transform="rotate(-12 1602.7 403.8)"/>
<ellipse cx="1599.7" cy="409.5" rx="1.3" ry="1.3"/>
<ellipse cx="1584.7" cy="444.7" rx="2.7" ry="2.1"/>
<ellipse cx="1695.7" cy="508.4" rx="2.7" ry="3"/>
<ellipse cx="1656" cy="497.9" rx="4.5" ry="1.5" transform="rotate(35 1656 497.9)"/>
<ellipse cx="1617" cy="486.7" rx="3.7" ry="1.5" transform="rotate(30 1617 486.7)"/>
<ellipse cx="1668.7" cy="517.4" rx="2.1" ry="3.3"/>
<ellipse cx="1659.7" cy="520.4" rx="1.8" ry="2.7"/>
<ellipse cx="1677.7" cy="515.2" rx="1.8" ry="3"/>
<ellipse cx="1641" cy="505.4" rx="4.5" ry="1.3" transform="rotate(20 1641 505.4)"/>
<ellipse cx="1723.4" cy="512.2" rx="1.8" ry="2.1"/>
<ellipse cx="1635" cy="454.5" rx="1.3" ry="6.7" transform="rotate(5 1635 454.5)"/>
<ellipse cx="1632" cy="417.7" rx="3.7" ry="1.3" transform="rotate(30 1632 417.7)"/>
<ellipse cx="1584.6" cy="360" rx="1.3" ry="3.2" transform="rotate(10 1584.6 360)"/>
<ellipse cx="1578.7" cy="373.9" rx="2.7" ry="3.7" transform="rotate(15 1578.7 373.9)"/>
<ellipse cx="1579.8" cy="391" rx="1.9" ry="4.8" transform="rotate(10 1579.8 391)"/>
<ellipse cx="1575" cy="376.6" rx="2.4" ry="1.3"/>
<ellipse cx="1889.9" cy="478.5" rx="4.5" ry="1.5"/>
<ellipse cx="1929.7" cy="501.7" rx="1.5" ry="3.7" transform="rotate(-20 1929.7 501.7)"/>
<ellipse cx="1879.4" cy="484.2" rx="2.7" ry="1.3" transform="rotate(-20 1879.4 484.2)"/>
<ellipse cx="1754.2" cy="476.2" rx="1.3" ry="1.8"/>
<ellipse cx="1785" cy="458.2" rx="2.1" ry="1.3" transform="rotate(-30 1785 458.2)"/>
</g>
<g fill="#1c2b44" opacity="0.45">
<circle cx="1588.4" cy="373.3" r="1.1"/>
<circle cx="1586.2" cy="389.4" r="1.1"/>
<circle cx="1585.2" cy="393.1" r="1.1"/>
<circle cx="1632.3" cy="389.7" r="1.1"/>
<circle cx="1746.8" cy="376.2" r="1.1"/>
<circle cx="1734.5" cy="389.7" r="1.1"/>
<circle cx="1706.7" cy="316.9" r="1.1"/>
<circle cx="1737.7" cy="326.8" r="1.1"/>
<circle cx="1744.7" cy="326.8" r="1.1"/>
<circle cx="1753.3" cy="325.7" r="1.1"/>
<circle cx="1744.8" cy="326.8" r="1.1"/>
<circle cx="1761.9" cy="331.6" r="1.1"/>
<circle cx="1747" cy="376.2" r="1.1"/>
<circle cx="1843.9" cy="376.6" r="1.1"/>
<circle cx="1895.8" cy="373.7" r="1.1"/>
<circle cx="1641" cy="409.5" r="1.1"/>
<circle cx="1644" cy="414" r="1.1"/>
<circle cx="1649.2" cy="418.8" r="1.1"/>
<circle cx="1646.2" cy="428.2" r="1.1"/>
<circle cx="1648.5" cy="430.5" r="1.1"/>
<circle cx="1644" cy="458.2" r="1.1"/>
<circle cx="1678.4" cy="429.7" r="1.1"/>
<circle cx="1681.7" cy="440.5" r="1.1"/>
<circle cx="1684.4" cy="411" r="1.1"/>
<circle cx="1699.7" cy="410.7" r="1.1"/>
<circle cx="1651.5" cy="409.8" r="1.1"/>
<circle cx="1579.5" cy="405" r="1.1"/>
<circle cx="1582.5" cy="397.5" r="1.1"/>
<circle cx="1893.2" cy="412.5" r="1.1"/>
<circle cx="1799.7" cy="455.7" r="1.1"/>
</g>
<g fill="#d2b48c">
<ellipse cx="1768.1" cy="340.5" rx="3.2" ry="0.6"/>
</g>
<circle cx="1847.4" cy="348.4" r="4.4" fill="#ff0000" stroke="#000" stroke-width="1.3"/>
</g>
<rect x="1567.1" y="307.1" width="399.4" height="219.1" fill="none" stroke="#000" stroke-width="1.7"/>
<path d="M1618.6 307.1v-9M1618.6 526.2v9M1683.1 307.1v-9M1683.1 526.2v9M1747.5 307.1v-9M1747.5 526.2v9M1812 307.1v-9M1812 526.2v9M1876.4 307.1v-9M1876.4 526.2v9M1940.8 307.1v-9M1940.8 526.2v9M1567.1 487.3h-9M1966.5 487.3h9M1567.1 422.4h-9M1966.5 422.4h9M1567.1 355.5h-9M1966.5 355.5h9" stroke="#000" stroke-width="3.3" fill="none"/>
<path d="M1567.1 307.1v-3.4M1567.1 526.2v3.4M1580 307.1v-3.4M1580 526.2v3.4M1592.9 307.1v-3.4M1592.9 526.2v3.4M1605.8 307.1v-3.4M1605.8 526.2v3.4M1631.5 307.1v-3.4M1631.5 526.2v3.4M1644.4 307.1v-3.4M1644.4 526.2v3.4M1657.3 307.1v-3.4M1657.3 526.2v3.4M1670.2 307.1v-3.4M1670.2 526.2v3.4M1696 307.1v-3.4M1696 526.2v3.4M1708.9 307.1v-3.4M1708.9 526.2v3.4M1721.7 307.1v-3.4M1721.7 526.2v3.4M1734.6 307.1v-3.4M1734.6 526.2v3.4M1760.4 307.1v-3.4M1760.4 526.2v3.4M1773.3 307.1v-3.4M1773.3 526.2v3.4M1786.2 307.1v-3.4M1786.2 526.2v3.4M1799.1 307.1v-3.4M1799.1 526.2v3.4M1824.8 307.1v-3.4M1824.8 526.2v3.4M1837.7 307.1v-3.4M1837.7 526.2v3.4M1850.6 307.1v-3.4M1850.6 526.2v3.4M1863.5 307.1v-3.4M1863.5 526.2v3.4M1889.3 307.1v-3.4M1889.3 526.2v3.4M1902.2 307.1v-3.4M1902.2 526.2v3.4M1915 307.1v-3.4M1915 526.2v3.4M1927.9 307.1v-3.4M1927.9 526.2v3.4M1953.7 307.1v-3.4M1953.7 526.2v3.4M1966.6 307.1v-3.4M1966.6 526.2v3.4M1567.1 526h-3.4M1966.5 526h3.4M1567.1 513.2h-3.4M1966.5 513.2h3.4M1567.1 500.3h-3.4M1966.5 500.3h3.4M1567.1 474.5h-3.4M1966.5 474.5h3.4M1567.1 461.5h-3.4M1966.5 461.5h3.4M1567.1 448.5h-3.4M1966.5 448.5h3.4M1567.1 435.4h-3.4M1966.5 435.4h3.4M1567.1 409h-3.4M1966.5 409h3.4M1567.1 395.8h-3.4M1966.5 395.8h3.4M1567.1 382.4h-3.4M1966.5 382.4h3.4M1567.1 369h-3.4M1966.5 369h3.4M1567.1 341.9h-3.4M1966.5 341.9h3.4M1567.1 328.2h-3.4M1966.5 328.2h3.4M1567.1 314.5h-3.4M1966.5 314.5h3.4" stroke="#000" stroke-width="1.7" fill="none"/>
<text x="1551" y="364.1" text-anchor="end">20°N</text>
<text x="1551" y="431" text-anchor="end">15°N</text>
<text x="1551" y="495.9" text-anchor="end">10°N</text>
<text transform="translate(1617.6 571.5) rotate(-45)" text-anchor="middle" y="8">85°W</text>
<text transform="translate(1682.1 571.5) rotate(-45)" text-anchor="middle" y="8">80°W</text>
<text transform="translate(1746.5 571.5) rotate(-45)" text-anchor="middle" y="8">75°W</text>
<text transform="translate(1811 571.5) rotate(-45)" text-anchor="middle" y="8">70°W</text>
<text transform="translate(1875.4 571.5) rotate(-45)" text-anchor="middle" y="8">65°W</text>
<text transform="translate(1939.8 571.5) rotate(-45)" text-anchor="middle" y="8">60°W</text>
</g>
</svg>
</body></html>
